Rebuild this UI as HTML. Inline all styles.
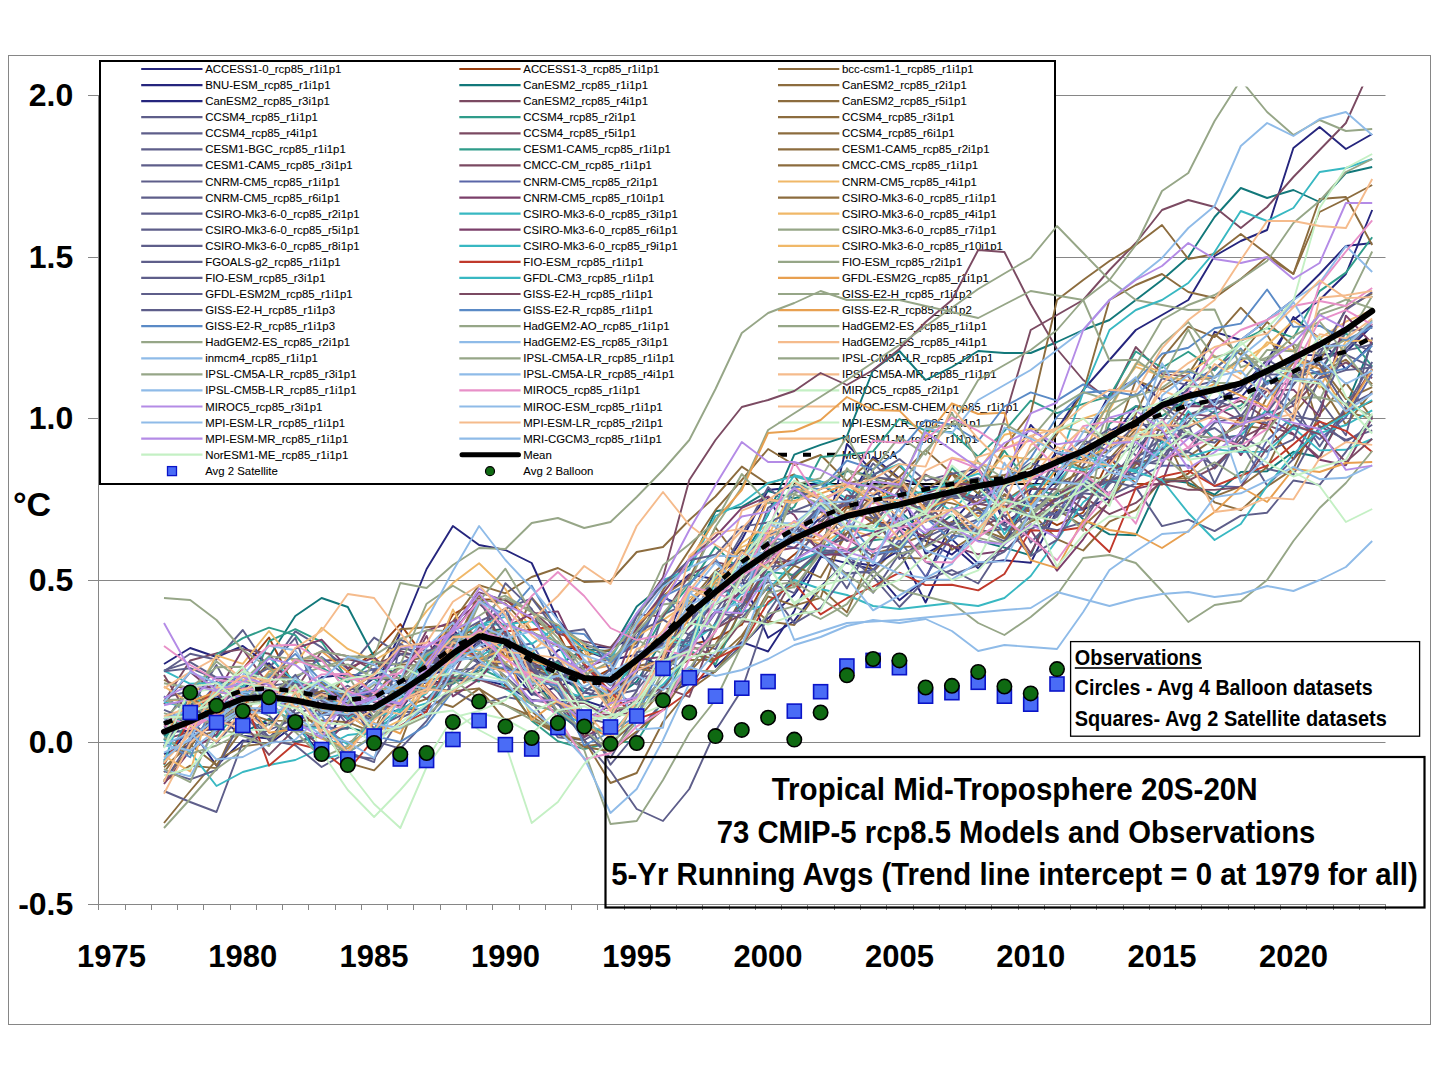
<!DOCTYPE html><html><head><meta charset="utf-8"><style>html,body{margin:0;padding:0;background:#fff;overflow:hidden;}svg{display:block;}</style></head><body>
<svg width="1440" height="1080" viewBox="0 0 1440 1080" font-family="Liberation Sans, sans-serif">
<defs><clipPath id="plotclip"><rect x="98" y="86.4" width="1288" height="818"/></clipPath></defs>
<rect x="0" y="0" width="1440" height="1080" fill="#fff"/>
<rect x="8.5" y="55.5" width="1422" height="969" fill="none" stroke="#868686" stroke-width="1"/>
<line x1="88" y1="95.5" x2="1385.5" y2="95.5" stroke="#868686" stroke-width="1"/>
<line x1="88" y1="257.5" x2="1385.5" y2="257.5" stroke="#868686" stroke-width="1"/>
<line x1="88" y1="418.5" x2="1385.5" y2="418.5" stroke="#868686" stroke-width="1"/>
<line x1="88" y1="580.5" x2="1385.5" y2="580.5" stroke="#868686" stroke-width="1"/>
<line x1="88" y1="742.5" x2="1385.5" y2="742.5" stroke="#868686" stroke-width="1"/>
<line x1="98.5" y1="95" x2="98.5" y2="905" stroke="#868686" stroke-width="1"/>
<line x1="88" y1="904.5" x2="1385.5" y2="904.5" stroke="#868686" stroke-width="1"/>
<path d="M98.5 904V910M125.5 904V910M151.5 904V910M177.5 904V910M203.5 904V910M230.5 904V910M256.5 904V910M282.5 904V910M308.5 904V910M335.5 904V910M361.5 904V910M387.5 904V910M413.5 904V910M440.5 904V910M466.5 904V910M492.5 904V910M519.5 904V910M545.5 904V910M571.5 904V910M597.5 904V910M624.5 904V910M650.5 904V910M676.5 904V910M702.5 904V910M729.5 904V910M755.5 904V910M781.5 904V910M807.5 904V910M834.5 904V910M860.5 904V910M886.5 904V910M913.5 904V910M939.5 904V910M965.5 904V910M991.5 904V910M1018.5 904V910M1044.5 904V910M1070.5 904V910M1096.5 904V910M1123.5 904V910M1149.5 904V910M1175.5 904V910M1201.5 904V910M1228.5 904V910M1254.5 904V910M1280.5 904V910M1306.5 904V910M1333.5 904V910M1359.5 904V910M1385.5 904V910" stroke="#868686" stroke-width="1" fill="none"/>
<text x="73.3" y="105.5" text-anchor="end" font-size="32" font-weight="bold" fill="#000">2.0</text>
<text x="73.3" y="267.5" text-anchor="end" font-size="32" font-weight="bold" fill="#000">1.5</text>
<text x="73.3" y="428.5" text-anchor="end" font-size="32" font-weight="bold" fill="#000">1.0</text>
<text x="73.3" y="590.5" text-anchor="end" font-size="32" font-weight="bold" fill="#000">0.5</text>
<text x="73.3" y="752.5" text-anchor="end" font-size="32" font-weight="bold" fill="#000">0.0</text>
<text x="73.3" y="914.5" text-anchor="end" font-size="32" font-weight="bold" fill="#000">-0.5</text>
<text x="13" y="515.5" font-size="34" font-weight="bold" fill="#000">°C</text>
<text x="111.4" y="967" text-anchor="middle" font-size="31" font-weight="bold" fill="#000">1975</text>
<text x="242.8" y="967" text-anchor="middle" font-size="31" font-weight="bold" fill="#000">1980</text>
<text x="374.1" y="967" text-anchor="middle" font-size="31" font-weight="bold" fill="#000">1985</text>
<text x="505.4" y="967" text-anchor="middle" font-size="31" font-weight="bold" fill="#000">1990</text>
<text x="636.7" y="967" text-anchor="middle" font-size="31" font-weight="bold" fill="#000">1995</text>
<text x="768.1" y="967" text-anchor="middle" font-size="31" font-weight="bold" fill="#000">2000</text>
<text x="899.4" y="967" text-anchor="middle" font-size="31" font-weight="bold" fill="#000">2005</text>
<text x="1030.7" y="967" text-anchor="middle" font-size="31" font-weight="bold" fill="#000">2010</text>
<text x="1162.0" y="967" text-anchor="middle" font-size="31" font-weight="bold" fill="#000">2015</text>
<text x="1293.4" y="967" text-anchor="middle" font-size="31" font-weight="bold" fill="#000">2020</text>
<rect x="100" y="61" width="955" height="423" fill="#fff" stroke="#000" stroke-width="2"/>
<g font-size="11.4" fill="#000" stroke="#000" stroke-width="0.08">
<text x="205.2" y="73.0">ACCESS1-0_rcp85_r1i1p1</text>
<text x="205.2" y="89.1">BNU-ESM_rcp85_r1i1p1</text>
<text x="205.2" y="105.1">CanESM2_rcp85_r3i1p1</text>
<text x="205.2" y="121.2">CCSM4_rcp85_r1i1p1</text>
<text x="205.2" y="137.3">CCSM4_rcp85_r4i1p1</text>
<text x="205.2" y="153.3">CESM1-BGC_rcp85_r1i1p1</text>
<text x="205.2" y="169.4">CESM1-CAM5_rcp85_r3i1p1</text>
<text x="205.2" y="185.5">CNRM-CM5_rcp85_r1i1p1</text>
<text x="205.2" y="201.6">CNRM-CM5_rcp85_r6i1p1</text>
<text x="205.2" y="217.6">CSIRO-Mk3-6-0_rcp85_r2i1p1</text>
<text x="205.2" y="233.7">CSIRO-Mk3-6-0_rcp85_r5i1p1</text>
<text x="205.2" y="249.8">CSIRO-Mk3-6-0_rcp85_r8i1p1</text>
<text x="205.2" y="265.8">FGOALS-g2_rcp85_r1i1p1</text>
<text x="205.2" y="281.9">FIO-ESM_rcp85_r3i1p1</text>
<text x="205.2" y="298.0">GFDL-ESM2M_rcp85_r1i1p1</text>
<text x="205.2" y="314.1">GISS-E2-H_rcp85_r1i1p3</text>
<text x="205.2" y="330.1">GISS-E2-R_rcp85_r1i1p3</text>
<text x="205.2" y="346.2">HadGEM2-ES_rcp85_r2i1p1</text>
<text x="205.2" y="362.3">inmcm4_rcp85_r1i1p1</text>
<text x="205.2" y="378.3">IPSL-CM5A-LR_rcp85_r3i1p1</text>
<text x="205.2" y="394.4">IPSL-CM5B-LR_rcp85_r1i1p1</text>
<text x="205.2" y="410.5">MIROC5_rcp85_r3i1p1</text>
<text x="205.2" y="426.5">MPI-ESM-LR_rcp85_r1i1p1</text>
<text x="205.2" y="442.6">MPI-ESM-MR_rcp85_r1i1p1</text>
<text x="205.2" y="458.7">NorESM1-ME_rcp85_r1i1p1</text>
<text x="523.3" y="73.0">ACCESS1-3_rcp85_r1i1p1</text>
<text x="523.3" y="89.1">CanESM2_rcp85_r1i1p1</text>
<text x="523.3" y="105.1">CanESM2_rcp85_r4i1p1</text>
<text x="523.3" y="121.2">CCSM4_rcp85_r2i1p1</text>
<text x="523.3" y="137.3">CCSM4_rcp85_r5i1p1</text>
<text x="523.3" y="153.3">CESM1-CAM5_rcp85_r1i1p1</text>
<text x="523.3" y="169.4">CMCC-CM_rcp85_r1i1p1</text>
<text x="523.3" y="185.5">CNRM-CM5_rcp85_r2i1p1</text>
<text x="523.3" y="201.6">CNRM-CM5_rcp85_r10i1p1</text>
<text x="523.3" y="217.6">CSIRO-Mk3-6-0_rcp85_r3i1p1</text>
<text x="523.3" y="233.7">CSIRO-Mk3-6-0_rcp85_r6i1p1</text>
<text x="523.3" y="249.8">CSIRO-Mk3-6-0_rcp85_r9i1p1</text>
<text x="523.3" y="265.8">FIO-ESM_rcp85_r1i1p1</text>
<text x="523.3" y="281.9">GFDL-CM3_rcp85_r1i1p1</text>
<text x="523.3" y="298.0">GISS-E2-H_rcp85_r1i1p1</text>
<text x="523.3" y="314.1">GISS-E2-R_rcp85_r1i1p1</text>
<text x="523.3" y="330.1">HadGEM2-AO_rcp85_r1i1p1</text>
<text x="523.3" y="346.2">HadGEM2-ES_rcp85_r3i1p1</text>
<text x="523.3" y="362.3">IPSL-CM5A-LR_rcp85_r1i1p1</text>
<text x="523.3" y="378.3">IPSL-CM5A-LR_rcp85_r4i1p1</text>
<text x="523.3" y="394.4">MIROC5_rcp85_r1i1p1</text>
<text x="523.3" y="410.5">MIROC-ESM_rcp85_r1i1p1</text>
<text x="523.3" y="426.5">MPI-ESM-LR_rcp85_r2i1p1</text>
<text x="523.3" y="442.6">MRI-CGCM3_rcp85_r1i1p1</text>
<text x="842.0" y="73.0">bcc-csm1-1_rcp85_r1i1p1</text>
<text x="842.0" y="89.1">CanESM2_rcp85_r2i1p1</text>
<text x="842.0" y="105.1">CanESM2_rcp85_r5i1p1</text>
<text x="842.0" y="121.2">CCSM4_rcp85_r3i1p1</text>
<text x="842.0" y="137.3">CCSM4_rcp85_r6i1p1</text>
<text x="842.0" y="153.3">CESM1-CAM5_rcp85_r2i1p1</text>
<text x="842.0" y="169.4">CMCC-CMS_rcp85_r1i1p1</text>
<text x="842.0" y="185.5">CNRM-CM5_rcp85_r4i1p1</text>
<text x="842.0" y="201.6">CSIRO-Mk3-6-0_rcp85_r1i1p1</text>
<text x="842.0" y="217.6">CSIRO-Mk3-6-0_rcp85_r4i1p1</text>
<text x="842.0" y="233.7">CSIRO-Mk3-6-0_rcp85_r7i1p1</text>
<text x="842.0" y="249.8">CSIRO-Mk3-6-0_rcp85_r10i1p1</text>
<text x="842.0" y="265.8">FIO-ESM_rcp85_r2i1p1</text>
<text x="842.0" y="281.9">GFDL-ESM2G_rcp85_r1i1p1</text>
<text x="842.0" y="298.0">GISS-E2-H_rcp85_r1i1p2</text>
<text x="842.0" y="314.1">GISS-E2-R_rcp85_r1i1p2</text>
<text x="842.0" y="330.1">HadGEM2-ES_rcp85_r1i1p1</text>
<text x="842.0" y="346.2">HadGEM2-ES_rcp85_r4i1p1</text>
<text x="842.0" y="362.3">IPSL-CM5A-LR_rcp85_r2i1p1</text>
<text x="842.0" y="378.3">IPSL-CM5A-MR_rcp85_r1i1p1</text>
<text x="842.0" y="394.4">MIROC5_rcp85_r2i1p1</text>
<text x="842.0" y="410.5">MIROC-ESM-CHEM_rcp85_r1i1p1</text>
<text x="842.0" y="426.5">MPI-ESM-LR_rcp85_r3i1p1</text>
<text x="842.0" y="442.6">NorESM1-M_rcp85_r1i1p1</text>
<text x="523.3" y="458.7">Mean</text>
<text x="842" y="458.7">Mean USA</text>
<text x="205.2" y="474.8">Avg 2 Satellite</text>
<text x="523.3" y="474.8">Avg 2 Balloon</text>
</g>
<line x1="141.2" y1="69.0" x2="202.5" y2="69.0" stroke="#25257d" stroke-width="2.2"/>
<line x1="141.2" y1="85.1" x2="202.5" y2="85.1" stroke="#25257d" stroke-width="2.2"/>
<line x1="141.2" y1="101.1" x2="202.5" y2="101.1" stroke="#25257d" stroke-width="2.2"/>
<line x1="141.2" y1="117.2" x2="202.5" y2="117.2" stroke="#5e5e8a" stroke-width="2.2"/>
<line x1="141.2" y1="133.3" x2="202.5" y2="133.3" stroke="#5e5e8a" stroke-width="2.2"/>
<line x1="141.2" y1="149.3" x2="202.5" y2="149.3" stroke="#5e5e8a" stroke-width="2.2"/>
<line x1="141.2" y1="165.4" x2="202.5" y2="165.4" stroke="#5e5e8a" stroke-width="2.2"/>
<line x1="141.2" y1="181.5" x2="202.5" y2="181.5" stroke="#5e5e8a" stroke-width="2.2"/>
<line x1="141.2" y1="197.6" x2="202.5" y2="197.6" stroke="#5e5e8a" stroke-width="2.2"/>
<line x1="141.2" y1="213.6" x2="202.5" y2="213.6" stroke="#5e5e8a" stroke-width="2.2"/>
<line x1="141.2" y1="229.7" x2="202.5" y2="229.7" stroke="#5e5e8a" stroke-width="2.2"/>
<line x1="141.2" y1="245.8" x2="202.5" y2="245.8" stroke="#5e5e8a" stroke-width="2.2"/>
<line x1="141.2" y1="261.8" x2="202.5" y2="261.8" stroke="#5e5e8a" stroke-width="2.2"/>
<line x1="141.2" y1="277.9" x2="202.5" y2="277.9" stroke="#5e5e8a" stroke-width="2.2"/>
<line x1="141.2" y1="294.0" x2="202.5" y2="294.0" stroke="#5e5e8a" stroke-width="2.2"/>
<line x1="141.2" y1="310.1" x2="202.5" y2="310.1" stroke="#5e5e8a" stroke-width="2.2"/>
<line x1="141.2" y1="326.1" x2="202.5" y2="326.1" stroke="#5a8ac6" stroke-width="2.2"/>
<line x1="141.2" y1="342.2" x2="202.5" y2="342.2" stroke="#96a687" stroke-width="2.2"/>
<line x1="141.2" y1="358.3" x2="202.5" y2="358.3" stroke="#8fbbe8" stroke-width="2.2"/>
<line x1="141.2" y1="374.3" x2="202.5" y2="374.3" stroke="#96a687" stroke-width="2.2"/>
<line x1="141.2" y1="390.4" x2="202.5" y2="390.4" stroke="#8fbbe8" stroke-width="2.2"/>
<line x1="141.2" y1="406.5" x2="202.5" y2="406.5" stroke="#b48be6" stroke-width="2.2"/>
<line x1="141.2" y1="422.5" x2="202.5" y2="422.5" stroke="#8fbbe8" stroke-width="2.2"/>
<line x1="141.2" y1="438.6" x2="202.5" y2="438.6" stroke="#b48be6" stroke-width="2.2"/>
<line x1="141.2" y1="454.7" x2="202.5" y2="454.7" stroke="#c4f0c4" stroke-width="2.2"/>
<line x1="459.3" y1="69.0" x2="520.6" y2="69.0" stroke="#9a3f10" stroke-width="2.2"/>
<line x1="459.3" y1="85.1" x2="520.6" y2="85.1" stroke="#12787a" stroke-width="2.2"/>
<line x1="459.3" y1="101.1" x2="520.6" y2="101.1" stroke="#7b4a62" stroke-width="2.2"/>
<line x1="459.3" y1="117.2" x2="520.6" y2="117.2" stroke="#2f9c8a" stroke-width="2.2"/>
<line x1="459.3" y1="133.3" x2="520.6" y2="133.3" stroke="#7b4a62" stroke-width="2.2"/>
<line x1="459.3" y1="149.3" x2="520.6" y2="149.3" stroke="#2f9c8a" stroke-width="2.2"/>
<line x1="459.3" y1="165.4" x2="520.6" y2="165.4" stroke="#7b4a62" stroke-width="2.2"/>
<line x1="459.3" y1="181.5" x2="520.6" y2="181.5" stroke="#5a66a8" stroke-width="2.2"/>
<line x1="459.3" y1="197.6" x2="520.6" y2="197.6" stroke="#7b3f6a" stroke-width="2.2"/>
<line x1="459.3" y1="213.6" x2="520.6" y2="213.6" stroke="#38b8c2" stroke-width="2.2"/>
<line x1="459.3" y1="229.7" x2="520.6" y2="229.7" stroke="#7b3f6a" stroke-width="2.2"/>
<line x1="459.3" y1="245.8" x2="520.6" y2="245.8" stroke="#38b8c2" stroke-width="2.2"/>
<line x1="459.3" y1="261.8" x2="520.6" y2="261.8" stroke="#c0392b" stroke-width="2.2"/>
<line x1="459.3" y1="277.9" x2="520.6" y2="277.9" stroke="#38b8c2" stroke-width="2.2"/>
<line x1="459.3" y1="294.0" x2="520.6" y2="294.0" stroke="#7b4a62" stroke-width="2.2"/>
<line x1="459.3" y1="310.1" x2="520.6" y2="310.1" stroke="#5a8ac6" stroke-width="2.2"/>
<line x1="459.3" y1="326.1" x2="520.6" y2="326.1" stroke="#96a687" stroke-width="2.2"/>
<line x1="459.3" y1="342.2" x2="520.6" y2="342.2" stroke="#8fbbe8" stroke-width="2.2"/>
<line x1="459.3" y1="358.3" x2="520.6" y2="358.3" stroke="#96a687" stroke-width="2.2"/>
<line x1="459.3" y1="374.3" x2="520.6" y2="374.3" stroke="#8fbbe8" stroke-width="2.2"/>
<line x1="459.3" y1="390.4" x2="520.6" y2="390.4" stroke="#e890c8" stroke-width="2.2"/>
<line x1="459.3" y1="406.5" x2="520.6" y2="406.5" stroke="#8fbbe8" stroke-width="2.2"/>
<line x1="459.3" y1="422.5" x2="520.6" y2="422.5" stroke="#f5bb8c" stroke-width="2.2"/>
<line x1="459.3" y1="438.6" x2="520.6" y2="438.6" stroke="#8fbbe8" stroke-width="2.2"/>
<line x1="778.0" y1="69.0" x2="839.3" y2="69.0" stroke="#8c6c3e" stroke-width="2.2"/>
<line x1="778.0" y1="85.1" x2="839.3" y2="85.1" stroke="#8c6c3e" stroke-width="2.2"/>
<line x1="778.0" y1="101.1" x2="839.3" y2="101.1" stroke="#8c6c3e" stroke-width="2.2"/>
<line x1="778.0" y1="117.2" x2="839.3" y2="117.2" stroke="#8c6c3e" stroke-width="2.2"/>
<line x1="778.0" y1="133.3" x2="839.3" y2="133.3" stroke="#8c6c3e" stroke-width="2.2"/>
<line x1="778.0" y1="149.3" x2="839.3" y2="149.3" stroke="#8c6c3e" stroke-width="2.2"/>
<line x1="778.0" y1="165.4" x2="839.3" y2="165.4" stroke="#8c6c3e" stroke-width="2.2"/>
<line x1="778.0" y1="181.5" x2="839.3" y2="181.5" stroke="#f0b868" stroke-width="2.2"/>
<line x1="778.0" y1="197.6" x2="839.3" y2="197.6" stroke="#8c6c3e" stroke-width="2.2"/>
<line x1="778.0" y1="213.6" x2="839.3" y2="213.6" stroke="#f0b868" stroke-width="2.2"/>
<line x1="778.0" y1="229.7" x2="839.3" y2="229.7" stroke="#96a687" stroke-width="2.2"/>
<line x1="778.0" y1="245.8" x2="839.3" y2="245.8" stroke="#f0b868" stroke-width="2.2"/>
<line x1="778.0" y1="261.8" x2="839.3" y2="261.8" stroke="#96a687" stroke-width="2.2"/>
<line x1="778.0" y1="277.9" x2="839.3" y2="277.9" stroke="#e8a050" stroke-width="2.2"/>
<line x1="778.0" y1="294.0" x2="839.3" y2="294.0" stroke="#96a687" stroke-width="2.2"/>
<line x1="778.0" y1="310.1" x2="839.3" y2="310.1" stroke="#e8a050" stroke-width="2.2"/>
<line x1="778.0" y1="326.1" x2="839.3" y2="326.1" stroke="#96a687" stroke-width="2.2"/>
<line x1="778.0" y1="342.2" x2="839.3" y2="342.2" stroke="#f5bb8c" stroke-width="2.2"/>
<line x1="778.0" y1="358.3" x2="839.3" y2="358.3" stroke="#96a687" stroke-width="2.2"/>
<line x1="778.0" y1="374.3" x2="839.3" y2="374.3" stroke="#f5bb8c" stroke-width="2.2"/>
<line x1="778.0" y1="390.4" x2="839.3" y2="390.4" stroke="#c4f0c4" stroke-width="2.2"/>
<line x1="778.0" y1="406.5" x2="839.3" y2="406.5" stroke="#f5bb8c" stroke-width="2.2"/>
<line x1="778.0" y1="422.5" x2="839.3" y2="422.5" stroke="#c4f0c4" stroke-width="2.2"/>
<line x1="778.0" y1="438.6" x2="839.3" y2="438.6" stroke="#f5bb8c" stroke-width="2.2"/>
<line x1="462" y1="454.7" x2="518.5" y2="454.7" stroke="#000" stroke-width="5" stroke-linecap="round"/>
<path d="M778 454.7H787M803 454.7H811M827 454.7H836" stroke="#000" stroke-width="4" fill="none"/>
<rect x="167.5" y="466.6" width="9" height="9" fill="#4a6cf6" stroke="#0a14c8" stroke-width="1.3"/>
<circle cx="490" cy="471.2" r="4.5" fill="#0f6a12" stroke="#000" stroke-width="1.2"/>
<g clip-path="url(#plotclip)">
<path d="M164.0 732.2L190.2 730.8L216.5 695.7L242.8 714.6L269.0 724.5L295.3 698.0L321.6 724.4L347.8 700.6L374.1 692.6L400.3 690.3L426.6 682.4L452.9 681.1L479.1 678.6L505.4 685.5L531.7 700.3L557.9 701.7L584.2 700.4L610.5 709.0L636.7 696.9L663.0 694.6L689.3 683.5L715.5 671.3L741.8 645.5L768.1 618.1L794.3 594.8L820.6 557.9L846.9 444.0L873.1 471.8L899.4 527.2L925.6 540.9L951.9 554.6L978.2 533.2L1004.4 486.8L1030.7 474.3L1057.0 429.4L1083.2 390.0L1109.5 360.0L1135.8 330.0L1162.0 315.0L1188.3 300.0L1214.6 256.0L1240.8 241.0L1267.1 230.0L1293.4 148.0L1319.6 127.0L1345.9 149.0L1372.2 134.0" fill="none" stroke="#25257d" stroke-width="1.9" stroke-linejoin="round"/>
<path d="M164.0 745.9L190.2 713.4L216.5 693.9L242.8 669.2L269.0 637.5L295.3 688.5L321.6 710.8L347.8 671.2L374.1 652.6L400.3 624.1L426.6 659.6L452.9 614.6L479.1 599.5L505.4 599.8L531.7 619.7L557.9 632.7L584.2 682.7L610.5 669.1L636.7 667.6L663.0 668.4L689.3 645.0L715.5 638.7L741.8 624.7L768.1 576.1L794.3 554.6L820.6 531.4L846.9 505.5L873.1 523.0L899.4 522.5L925.6 515.0L951.9 473.5L978.2 487.2L1004.4 507.8L1030.7 511.4L1057.0 525.2L1083.2 512.5L1109.5 458.2L1135.8 483.8L1162.0 484.6L1188.3 473.7L1214.6 446.8L1240.8 416.6L1267.1 425.3L1293.4 459.3L1319.6 428.4L1345.9 413.2L1372.2 401.2" fill="none" stroke="#9a3f10" stroke-width="1.9" stroke-linejoin="round"/>
<path d="M164.0 753.8L190.2 747.2L216.5 709.9L242.8 708.2L269.0 694.5L295.3 677.6L321.6 694.9L347.8 704.1L374.1 719.5L400.3 691.6L426.6 664.2L452.9 621.2L479.1 585.1L505.4 593.3L531.7 577.0L557.9 568.0L584.2 582.0L610.5 581.0L636.7 552.0L663.0 547.0L689.3 520.0L715.5 496.5L741.8 466.6L768.1 484.1L794.3 474.5L820.6 524.1L846.9 484.0L873.1 476.4L899.4 482.8L925.6 519.7L951.9 486.5L978.2 503.5L1004.4 477.3L1030.7 472.4L1057.0 484.6L1083.2 470.8L1109.5 500.5L1135.8 464.2L1162.0 404.1L1188.3 416.8L1214.6 438.7L1240.8 425.5L1267.1 428.9L1293.4 397.8L1319.6 372.9L1345.9 359.6L1372.2 384.3" fill="none" stroke="#8c6c3e" stroke-width="1.9" stroke-linejoin="round"/>
<path d="M164.0 753.8L190.2 744.8L216.5 716.1L242.8 735.7L269.0 738.6L295.3 709.4L321.6 677.3L347.8 674.4L374.1 677.8L400.3 681.4L426.6 680.3L452.9 634.2L479.1 637.1L505.4 651.7L531.7 678.5L557.9 650.3L584.2 646.3L610.5 647.6L636.7 637.0L663.0 596.8L689.3 574.4L715.5 579.3L741.8 539.8L768.1 490.0L794.3 487.3L820.6 483.4L846.9 502.5L873.1 495.1L899.4 486.1L925.6 553.9L951.9 539.4L978.2 563.6L1004.4 560.3L1030.7 562.8L1057.0 510.4L1083.2 509.5L1109.5 497.8L1135.8 458.0L1162.0 404.6L1188.3 404.7L1214.6 399.9L1240.8 387.9L1267.1 360.0L1293.4 320.0L1319.6 300.0L1345.9 274.0L1372.2 210.0" fill="none" stroke="#25257d" stroke-width="1.9" stroke-linejoin="round"/>
<path d="M164.0 724.0L190.2 716.7L216.5 700.0L242.8 690.0L269.0 657.0L295.3 616.0L321.6 598.0L347.8 607.0L374.1 657.0L400.3 700.0L426.6 662.2L452.9 638.8L479.1 632.1L505.4 628.7L531.7 665.3L557.9 665.4L584.2 649.1L610.5 651.3L636.7 606.5L663.0 585.2L689.3 566.2L715.5 511.3L741.8 506.9L768.1 491.1L794.3 498.3L820.6 489.2L846.9 471.1L873.1 475.5L899.4 510.6L925.6 534.7L951.9 514.9L978.2 540.7L1004.4 547.6L1030.7 555.4L1057.0 492.2L1083.2 519.3L1109.5 534.4L1135.8 535.2L1162.0 479.2L1188.3 482.8L1214.6 494.7L1240.8 472.0L1267.1 471.2L1293.4 451.7L1319.6 457.2L1345.9 406.6L1372.2 342.3" fill="none" stroke="#12787a" stroke-width="1.9" stroke-linejoin="round"/>
<path d="M164.0 736.2L190.2 711.0L216.5 688.9L242.8 733.1L269.0 718.8L295.3 742.0L321.6 736.1L347.8 727.2L374.1 734.7L400.3 726.8L426.6 706.6L452.9 677.3L479.1 670.7L505.4 667.6L531.7 673.0L557.9 712.9L584.2 733.0L610.5 701.5L636.7 681.5L663.0 640.2L689.3 648.0L715.5 573.9L741.8 558.6L768.1 514.7L794.3 454.6L820.6 444.9L846.9 436.4L873.1 370.0L899.4 351.0L925.6 380.0L951.9 367.0L978.2 351.0L1004.4 353.0L1030.7 353.0L1057.0 342.0L1083.2 330.0L1109.5 320.0L1135.8 300.0L1162.0 280.0L1188.3 257.0L1214.6 217.0L1240.8 188.0L1267.1 198.0L1293.4 190.0L1319.6 202.0L1345.9 173.0L1372.2 167.0" fill="none" stroke="#12787a" stroke-width="1.9" stroke-linejoin="round"/>
<path d="M164.0 664.0L190.2 648.0L216.5 657.0L242.8 646.0L269.0 665.0L295.3 680.0L321.6 695.9L347.8 701.6L374.1 716.9L400.3 709.5L426.6 677.2L452.9 666.3L479.1 640.6L505.4 663.0L531.7 694.9L557.9 686.9L584.2 676.4L610.5 690.0L636.7 672.5L663.0 597.6L689.3 607.7L715.5 666.9L741.8 642.2L768.1 651.5L794.3 610.9L820.6 556.7L846.9 563.1L873.1 569.5L899.4 600.2L925.6 578.7L951.9 522.6L978.2 493.2L1004.4 480.8L1030.7 424.9L1057.0 453.4L1083.2 457.3L1109.5 441.0L1135.8 406.2L1162.0 408.6L1188.3 380.6L1214.6 377.2L1240.8 358.9L1267.1 375.8L1293.4 355.1L1319.6 355.0L1345.9 352.1L1372.2 325.5" fill="none" stroke="#25257d" stroke-width="1.9" stroke-linejoin="round"/>
<path d="M164.0 760.7L190.2 728.0L216.5 765.7L242.8 740.4L269.0 744.3L295.3 724.8L321.6 754.2L347.8 700.0L374.1 690.0L400.3 633.0L426.6 569.0L452.9 526.0L479.1 545.0L505.4 550.0L531.7 563.0L557.9 620.0L584.2 650.0L610.5 660.0L636.7 654.8L663.0 666.3L689.3 607.0L715.5 573.9L741.8 559.5L768.1 497.4L794.3 541.7L820.6 517.5L846.9 503.6L873.1 456.9L899.4 478.2L925.6 486.8L951.9 487.0L978.2 467.8L1004.4 522.8L1030.7 506.5L1057.0 479.6L1083.2 443.6L1109.5 394.1L1135.8 379.2L1162.0 400.7L1188.3 391.2L1214.6 402.1L1240.8 397.6L1267.1 367.2L1293.4 316.9L1319.6 338.4L1345.9 369.3L1372.2 343.9" fill="none" stroke="#25257d" stroke-width="1.9" stroke-linejoin="round"/>
<path d="M164.0 767.3L190.2 744.4L216.5 765.0L242.8 728.9L269.0 698.4L295.3 707.2L321.6 730.6L347.8 762.9L374.1 770.4L400.3 743.3L426.6 673.8L452.9 649.4L479.1 594.1L505.4 658.0L531.7 597.5L557.9 627.5L584.2 655.3L610.5 649.7L636.7 629.5L663.0 595.7L689.3 578.2L715.5 527.5L741.8 562.4L768.1 530.8L794.3 535.6L820.6 511.6L846.9 529.6L873.1 571.7L899.4 545.2L925.6 534.2L951.9 521.8L978.2 528.4L1004.4 538.5L1030.7 521.7L1057.0 509.8L1083.2 526.0L1109.5 502.2L1135.8 464.1L1162.0 455.1L1188.3 456.7L1214.6 438.4L1240.8 445.9L1267.1 397.2L1293.4 362.7L1319.6 362.3L1345.9 308.5L1372.2 293.5" fill="none" stroke="#8c6c3e" stroke-width="1.9" stroke-linejoin="round"/>
<path d="M164.0 731.6L190.2 709.2L216.5 718.1L242.8 690.6L269.0 663.2L295.3 695.7L321.6 693.4L347.8 696.6L374.1 678.0L400.3 654.1L426.6 653.7L452.9 628.7L479.1 662.1L505.4 641.5L531.7 655.6L557.9 676.5L584.2 692.3L610.5 699.3L636.7 663.1L663.0 643.6L689.3 587.2L715.5 593.5L741.8 578.5L768.1 637.8L794.3 620.7L820.6 586.7L846.9 561.5L873.1 565.7L899.4 550.5L925.6 602.5L951.9 545.3L978.2 568.3L1004.4 544.4L1030.7 490.4L1057.0 450.8L1083.2 461.2L1109.5 431.5L1135.8 416.3L1162.0 442.8L1188.3 388.8L1214.6 331.8L1240.8 340.0L1267.1 320.0L1293.4 300.0L1319.6 274.0L1345.9 246.0L1372.2 243.0" fill="none" stroke="#25257d" stroke-width="1.9" stroke-linejoin="round"/>
<path d="M164.0 701.3L190.2 660.5L216.5 653.3L242.8 649.1L269.0 653.7L295.3 690.3L321.6 651.3L347.8 656.1L374.1 670.4L400.3 650.9L426.6 659.4L452.9 632.9L479.1 598.6L505.4 649.7L531.7 667.1L557.9 704.8L584.2 702.7L610.5 718.9L636.7 709.6L663.0 665.9L689.3 645.5L715.5 656.3L741.8 621.3L768.1 622.7L794.3 576.9L820.6 551.0L846.9 532.9L873.1 526.1L899.4 489.3L925.6 474.7L951.9 489.3L978.2 498.0L1004.4 419.0L1030.7 330.0L1057.0 315.0L1083.2 300.0L1109.5 270.0L1135.8 243.0L1162.0 210.0L1188.3 200.0L1214.6 207.0L1240.8 228.0L1267.1 207.0L1293.4 177.0L1319.6 150.0L1345.9 123.0L1372.2 65.0" fill="none" stroke="#7b4a62" stroke-width="1.9" stroke-linejoin="round"/>
<path d="M164.0 823.0L190.2 791.0L216.5 760.0L242.8 746.3L269.0 743.0L295.3 719.0L321.6 714.8L347.8 691.7L374.1 673.8L400.3 629.2L426.6 627.2L452.9 625.1L479.1 635.3L505.4 631.3L531.7 666.4L557.9 674.7L584.2 679.0L610.5 699.0L636.7 666.3L663.0 660.8L689.3 602.1L715.5 570.9L741.8 550.3L768.1 554.3L794.3 578.3L820.6 549.2L846.9 507.7L873.1 513.6L899.4 557.8L925.6 558.6L951.9 537.2L978.2 500.2L1004.4 499.5L1030.7 501.1L1057.0 499.9L1083.2 458.9L1109.5 451.2L1135.8 380.5L1162.0 390.2L1188.3 374.3L1214.6 334.3L1240.8 354.7L1267.1 322.0L1293.4 346.3L1319.6 429.3L1345.9 412.0L1372.2 418.3" fill="none" stroke="#8c6c3e" stroke-width="1.9" stroke-linejoin="round"/>
<path d="M164.0 722.2L190.2 737.1L216.5 681.8L242.8 698.6L269.0 693.6L295.3 683.3L321.6 692.8L347.8 725.1L374.1 688.4L400.3 709.0L426.6 709.7L452.9 690.7L479.1 705.2L505.4 696.7L531.7 702.0L557.9 737.2L584.2 740.2L610.5 724.6L636.7 691.1L663.0 614.6L689.3 602.5L715.5 580.4L741.8 535.0L768.1 487.1L794.3 511.6L820.6 511.6L846.9 502.7L873.1 522.0L899.4 528.8L925.6 502.6L951.9 494.1L978.2 504.4L1004.4 495.5L1030.7 511.2L1057.0 500.3L1083.2 477.2L1109.5 493.9L1135.8 461.3L1162.0 464.2L1188.3 414.8L1214.6 405.0L1240.8 390.7L1267.1 359.4L1293.4 376.0L1319.6 360.4L1345.9 350.6L1372.2 344.5" fill="none" stroke="#5e5e8a" stroke-width="1.9" stroke-linejoin="round"/>
<path d="M164.0 740.1L190.2 702.2L216.5 736.9L242.8 704.6L269.0 641.1L295.3 629.2L321.6 641.8L347.8 679.5L374.1 678.7L400.3 697.9L426.6 687.9L452.9 683.9L479.1 667.8L505.4 680.2L531.7 720.7L557.9 741.2L584.2 749.1L610.5 742.5L636.7 741.6L663.0 700.3L689.3 650.1L715.5 664.4L741.8 607.7L768.1 571.8L794.3 574.9L820.6 554.5L846.9 550.7L873.1 540.2L899.4 537.0L925.6 520.1L951.9 467.8L978.2 494.0L1004.4 450.7L1030.7 486.5L1057.0 496.1L1083.2 489.2L1109.5 423.8L1135.8 406.1L1162.0 416.1L1188.3 398.5L1214.6 413.8L1240.8 405.4L1267.1 381.1L1293.4 375.4L1319.6 372.8L1345.9 332.8L1372.2 366.5" fill="none" stroke="#2f9c8a" stroke-width="1.9" stroke-linejoin="round"/>
<path d="M164.0 780.7L190.2 747.3L216.5 705.7L242.8 685.9L269.0 665.3L295.3 694.2L321.6 727.5L347.8 743.2L374.1 729.6L400.3 676.7L426.6 687.6L452.9 691.3L479.1 688.4L505.4 720.4L531.7 711.3L557.9 733.9L584.2 746.1L610.5 743.3L636.7 720.3L663.0 689.2L689.3 653.4L715.5 659.0L741.8 608.4L768.1 549.9L794.3 540.1L820.6 539.8L846.9 512.9L873.1 518.5L899.4 551.8L925.6 502.5L951.9 549.8L978.2 532.8L1004.4 494.1L1030.7 511.8L1057.0 539.1L1083.2 550.5L1109.5 521.7L1135.8 510.2L1162.0 479.8L1188.3 478.1L1214.6 502.3L1240.8 510.2L1267.1 486.5L1293.4 468.9L1319.6 414.2L1345.9 382.9L1372.2 418.3" fill="none" stroke="#8c6c3e" stroke-width="1.9" stroke-linejoin="round"/>
<path d="M164.0 697.5L190.2 691.0L216.5 685.4L242.8 694.3L269.0 740.6L295.3 709.0L321.6 685.2L347.8 690.2L374.1 728.9L400.3 715.6L426.6 690.8L452.9 681.9L479.1 662.5L505.4 647.6L531.7 656.8L557.9 669.2L584.2 670.2L610.5 704.7L636.7 677.0L663.0 675.2L689.3 640.7L715.5 649.2L741.8 597.6L768.1 582.0L794.3 593.2L820.6 549.1L846.9 555.2L873.1 576.6L899.4 607.0L925.6 579.9L951.9 570.0L978.2 583.5L1004.4 543.3L1030.7 478.5L1057.0 479.7L1083.2 485.0L1109.5 480.9L1135.8 468.2L1162.0 458.4L1188.3 452.0L1214.6 465.0L1240.8 442.2L1267.1 468.9L1293.4 474.8L1319.6 426.1L1345.9 439.8L1372.2 430.4" fill="none" stroke="#5e5e8a" stroke-width="1.9" stroke-linejoin="round"/>
<path d="M164.0 739.7L190.2 731.7L216.5 729.0L242.8 710.8L269.0 690.2L295.3 660.6L321.6 660.8L347.8 659.2L374.1 665.0L400.3 653.5L426.6 668.2L452.9 625.9L479.1 592.3L505.4 600.6L531.7 610.1L557.9 633.7L584.2 641.4L610.5 647.6L636.7 615.3L663.0 577.2L689.3 480.0L715.5 440.0L741.8 407.0L768.1 400.0L794.3 391.0L820.6 373.0L846.9 385.0L873.1 370.0L899.4 349.0L925.6 322.0L951.9 300.0L978.2 250.0L1004.4 252.0L1030.7 304.0L1057.0 349.0L1083.2 380.0L1109.5 400.0L1135.8 347.0L1162.0 374.1L1188.3 376.4L1214.6 408.9L1240.8 400.8L1267.1 419.3L1293.4 405.5L1319.6 377.5L1345.9 362.4L1372.2 378.1" fill="none" stroke="#7b4a62" stroke-width="1.9" stroke-linejoin="round"/>
<path d="M164.0 772.3L190.2 737.7L216.5 731.3L242.8 695.5L269.0 674.0L295.3 679.0L321.6 696.2L347.8 710.3L374.1 709.6L400.3 664.3L426.6 666.3L452.9 648.0L479.1 599.5L505.4 603.4L531.7 631.6L557.9 646.7L584.2 647.3L610.5 660.6L636.7 642.9L663.0 590.0L689.3 550.0L715.5 510.0L741.8 480.0L768.1 449.0L794.3 465.0L820.6 455.0L846.9 481.2L873.1 459.1L899.4 479.6L925.6 498.6L951.9 503.4L978.2 510.4L1004.4 501.3L1030.7 483.3L1057.0 507.3L1083.2 475.2L1109.5 480.6L1135.8 413.8L1162.0 358.3L1188.3 326.7L1214.6 337.1L1240.8 307.7L1267.1 334.8L1293.4 378.4L1319.6 364.1L1345.9 399.1L1372.2 387.1" fill="none" stroke="#8c6c3e" stroke-width="1.9" stroke-linejoin="round"/>
<path d="M164.0 671.3L190.2 653.7L216.5 659.7L242.8 630.0L269.0 669.0L295.3 631.4L321.6 647.4L347.8 669.1L374.1 637.6L400.3 654.5L426.6 654.3L452.9 631.5L479.1 664.9L505.4 663.0L531.7 687.1L557.9 660.5L584.2 688.1L610.5 695.6L636.7 690.0L663.0 658.0L689.3 673.0L715.5 622.7L741.8 588.5L768.1 552.1L794.3 564.6L820.6 551.1L846.9 549.2L873.1 549.5L899.4 544.0L925.6 518.7L951.9 528.0L978.2 519.3L1004.4 529.8L1030.7 529.2L1057.0 517.0L1083.2 492.2L1109.5 480.9L1135.8 472.8L1162.0 424.5L1188.3 428.4L1214.6 411.4L1240.8 381.5L1267.1 412.7L1293.4 377.3L1319.6 371.1L1345.9 331.5L1372.2 327.7" fill="none" stroke="#5e5e8a" stroke-width="1.9" stroke-linejoin="round"/>
<path d="M164.0 765.0L190.2 715.0L216.5 654.5L242.8 638.1L269.0 627.7L295.3 635.1L321.6 667.6L347.8 682.4L374.1 660.0L400.3 676.2L426.6 680.3L452.9 676.5L479.1 681.5L505.4 635.8L531.7 660.5L557.9 662.8L584.2 701.6L610.5 689.4L636.7 663.4L663.0 616.8L689.3 585.4L715.5 546.6L741.8 572.3L768.1 524.5L794.3 506.8L820.6 457.0L846.9 454.9L873.1 451.4L899.4 419.0L925.6 430.7L951.9 432.3L978.2 456.6L1004.4 431.1L1030.7 400.6L1057.0 413.2L1083.2 403.8L1109.5 396.3L1135.8 351.5L1162.0 367.7L1188.3 351.8L1214.6 370.4L1240.8 340.8L1267.1 328.0L1293.4 337.7L1319.6 291.1L1345.9 272.6L1372.2 237.3" fill="none" stroke="#2f9c8a" stroke-width="1.9" stroke-linejoin="round"/>
<path d="M164.0 679.9L190.2 691.8L216.5 713.7L242.8 712.8L269.0 705.9L295.3 696.5L321.6 682.7L347.8 706.8L374.1 696.3L400.3 662.9L426.6 656.7L452.9 645.1L479.1 623.1L505.4 684.1L531.7 719.5L557.9 734.3L584.2 740.0L610.5 783.0L636.7 773.0L663.0 722.0L689.3 690.0L715.5 671.3L741.8 638.3L768.1 592.0L794.3 565.6L820.6 577.5L846.9 533.2L873.1 522.1L899.4 477.0L925.6 450.1L951.9 473.5L978.2 509.4L1004.4 538.5L1030.7 504.3L1057.0 456.9L1083.2 468.1L1109.5 458.9L1135.8 429.4L1162.0 430.1L1188.3 485.1L1214.6 496.4L1240.8 486.3L1267.1 467.2L1293.4 414.5L1319.6 382.9L1345.9 424.8L1372.2 391.2" fill="none" stroke="#8c6c3e" stroke-width="1.9" stroke-linejoin="round"/>
<path d="M164.0 670.4L190.2 662.1L216.5 677.6L242.8 682.0L269.0 668.0L295.3 637.8L321.6 711.6L347.8 688.9L374.1 690.6L400.3 648.9L426.6 650.6L452.9 661.2L479.1 644.0L505.4 666.3L531.7 676.6L557.9 683.0L584.2 702.2L610.5 673.3L636.7 684.5L663.0 653.0L689.3 637.6L715.5 627.5L741.8 608.1L768.1 567.4L794.3 535.1L820.6 510.9L846.9 517.0L873.1 487.7L899.4 521.1L925.6 516.5L951.9 523.7L978.2 512.7L1004.4 525.7L1030.7 504.8L1057.0 505.3L1083.2 516.4L1109.5 484.0L1135.8 461.8L1162.0 448.4L1188.3 435.2L1214.6 468.6L1240.8 442.3L1267.1 485.5L1293.4 459.2L1319.6 408.8L1345.9 348.7L1372.2 323.9" fill="none" stroke="#5e5e8a" stroke-width="1.9" stroke-linejoin="round"/>
<path d="M164.0 747.3L190.2 694.5L216.5 723.5L242.8 722.1L269.0 703.2L295.3 687.5L321.6 693.8L347.8 697.5L374.1 711.8L400.3 682.1L426.6 698.7L452.9 675.2L479.1 627.5L505.4 608.5L531.7 661.2L557.9 679.0L584.2 667.8L610.5 658.2L636.7 614.2L663.0 616.6L689.3 575.1L715.5 561.8L741.8 568.2L768.1 557.8L794.3 540.5L820.6 526.5L846.9 499.2L873.1 488.8L899.4 487.2L925.6 503.8L951.9 527.0L978.2 528.9L1004.4 515.4L1030.7 553.0L1057.0 504.5L1083.2 496.5L1109.5 514.2L1135.8 502.9L1162.0 481.8L1188.3 480.7L1214.6 467.3L1240.8 438.4L1267.1 425.1L1293.4 434.6L1319.6 457.6L1345.9 408.8L1372.2 369.0" fill="none" stroke="#7b4a62" stroke-width="1.9" stroke-linejoin="round"/>
<path d="M164.0 781.4L190.2 765.6L216.5 768.1L242.8 711.6L269.0 720.6L295.3 720.9L321.6 720.4L347.8 722.2L374.1 732.9L400.3 689.7L426.6 659.9L452.9 641.9L479.1 656.2L505.4 670.8L531.7 670.3L557.9 675.3L584.2 737.4L610.5 699.3L636.7 668.2L663.0 673.3L689.3 660.0L715.5 659.9L741.8 635.6L768.1 596.5L794.3 605.6L820.6 597.8L846.9 523.5L873.1 495.1L899.4 466.1L925.6 489.8L951.9 473.2L978.2 493.6L1004.4 447.2L1030.7 413.3L1057.0 300.0L1083.2 280.0L1109.5 261.0L1135.8 245.0L1162.0 225.0L1188.3 259.0L1214.6 254.0L1240.8 234.0L1267.1 254.0L1293.4 274.0L1319.6 212.0L1345.9 199.0L1372.2 185.0" fill="none" stroke="#8c6c3e" stroke-width="1.9" stroke-linejoin="round"/>
<path d="M164.0 722.9L190.2 685.3L216.5 711.8L242.8 705.1L269.0 715.5L295.3 743.7L321.6 731.4L347.8 755.7L374.1 758.7L400.3 718.2L426.6 705.9L452.9 670.6L479.1 668.0L505.4 635.3L531.7 669.7L557.9 691.9L584.2 730.2L610.5 757.9L636.7 713.3L663.0 687.9L689.3 649.5L715.5 612.9L741.8 592.0L768.1 559.6L794.3 525.8L820.6 547.2L846.9 538.3L873.1 556.3L899.4 548.0L925.6 510.0L951.9 529.3L978.2 532.3L1004.4 529.0L1030.7 514.3L1057.0 513.1L1083.2 490.8L1109.5 481.8L1135.8 448.9L1162.0 422.1L1188.3 387.6L1214.6 381.0L1240.8 416.3L1267.1 382.4L1293.4 384.5L1319.6 349.6L1345.9 339.5L1372.2 352.1" fill="none" stroke="#5e5e8a" stroke-width="1.9" stroke-linejoin="round"/>
<path d="M164.0 696.4L190.2 714.6L216.5 684.0L242.8 693.2L269.0 676.6L295.3 679.2L321.6 657.1L347.8 677.3L374.1 669.0L400.3 662.8L426.6 652.3L452.9 646.7L479.1 659.1L505.4 648.1L531.7 643.5L557.9 685.4L584.2 643.1L610.5 656.6L636.7 646.4L663.0 593.5L689.3 624.5L715.5 588.7L741.8 552.6L768.1 541.8L794.3 547.7L820.6 552.7L846.9 574.2L873.1 569.9L899.4 539.8L925.6 576.7L951.9 535.3L978.2 538.9L1004.4 487.9L1030.7 518.9L1057.0 513.6L1083.2 477.1L1109.5 457.6L1135.8 477.7L1162.0 465.8L1188.3 465.4L1214.6 485.9L1240.8 487.1L1267.1 440.4L1293.4 416.3L1319.6 439.2L1345.9 417.3L1372.2 373.8" fill="none" stroke="#5a66a8" stroke-width="1.9" stroke-linejoin="round"/>
<path d="M164.0 686.4L190.2 703.3L216.5 655.4L242.8 663.9L269.0 631.0L295.3 664.1L321.6 627.7L347.8 648.9L374.1 660.5L400.3 645.1L426.6 611.2L452.9 583.1L479.1 563.3L505.4 588.9L531.7 630.3L557.9 628.8L584.2 649.9L610.5 705.1L636.7 664.5L663.0 645.2L689.3 597.6L715.5 586.2L741.8 543.2L768.1 524.2L794.3 534.0L820.6 544.2L846.9 528.9L873.1 536.9L899.4 538.8L925.6 510.8L951.9 486.6L978.2 482.0L1004.4 455.8L1030.7 459.3L1057.0 459.2L1083.2 454.3L1109.5 400.4L1135.8 366.9L1162.0 376.1L1188.3 380.7L1214.6 376.8L1240.8 361.5L1267.1 345.1L1293.4 320.7L1319.6 338.3L1345.9 321.7L1372.2 309.8" fill="none" stroke="#f0b868" stroke-width="1.9" stroke-linejoin="round"/>
<path d="M164.0 782.2L190.2 740.7L216.5 713.6L242.8 714.2L269.0 706.3L295.3 677.6L321.6 698.7L347.8 719.5L374.1 669.9L400.3 691.8L426.6 653.0L452.9 642.5L479.1 637.2L505.4 583.2L531.7 608.9L557.9 671.6L584.2 714.1L610.5 764.7L636.7 733.0L663.0 701.3L689.3 672.1L715.5 622.6L741.8 565.8L768.1 578.7L794.3 526.0L820.6 551.5L846.9 556.5L873.1 592.8L899.4 553.8L925.6 546.5L951.9 526.1L978.2 530.2L1004.4 541.3L1030.7 516.2L1057.0 484.8L1083.2 451.1L1109.5 457.6L1135.8 446.3L1162.0 405.2L1188.3 425.1L1214.6 483.5L1240.8 431.3L1267.1 414.0L1293.4 401.7L1319.6 371.4L1345.9 354.7L1372.2 367.1" fill="none" stroke="#5e5e8a" stroke-width="1.9" stroke-linejoin="round"/>
<path d="M164.0 784.0L190.2 750.5L216.5 734.4L242.8 689.0L269.0 683.3L295.3 723.7L321.6 747.9L347.8 720.7L374.1 695.6L400.3 683.1L426.6 635.9L452.9 696.4L479.1 679.3L505.4 648.5L531.7 671.5L557.9 699.4L584.2 737.1L610.5 723.4L636.7 660.1L663.0 656.7L689.3 627.1L715.5 604.5L741.8 593.1L768.1 552.0L794.3 547.8L820.6 524.3L846.9 541.0L873.1 532.7L899.4 523.1L925.6 537.6L951.9 546.2L978.2 554.3L1004.4 550.6L1030.7 529.8L1057.0 570.7L1083.2 539.3L1109.5 500.4L1135.8 488.9L1162.0 482.6L1188.3 413.6L1214.6 416.6L1240.8 455.1L1267.1 417.4L1293.4 433.8L1319.6 459.8L1345.9 465.3L1372.2 418.1" fill="none" stroke="#7b3f6a" stroke-width="1.9" stroke-linejoin="round"/>
<path d="M164.0 725.1L190.2 705.9L216.5 691.3L242.8 697.6L269.0 702.4L295.3 703.0L321.6 690.9L347.8 694.8L374.1 696.4L400.3 708.5L426.6 698.9L452.9 707.0L479.1 688.6L505.4 705.2L531.7 716.2L557.9 733.6L584.2 747.0L610.5 751.2L636.7 731.5L663.0 709.8L689.3 672.1L715.5 644.7L741.8 597.8L768.1 621.4L794.3 625.0L820.6 588.2L846.9 612.4L873.1 553.7L899.4 547.0L925.6 546.1L951.9 488.3L978.2 479.0L1004.4 475.0L1030.7 468.2L1057.0 434.1L1083.2 392.1L1109.5 300.0L1135.8 285.0L1162.0 274.0L1188.3 292.0L1214.6 298.0L1240.8 279.0L1267.1 257.0L1293.4 274.0L1319.6 199.0L1345.9 197.0L1372.2 245.0" fill="none" stroke="#8c6c3e" stroke-width="1.9" stroke-linejoin="round"/>
<path d="M164.0 791.0L190.2 802.0L216.5 812.0L242.8 742.0L269.0 730.0L295.3 718.8L321.6 714.7L347.8 715.2L374.1 731.2L400.3 712.0L426.6 711.9L452.9 651.6L479.1 663.0L505.4 649.1L531.7 665.5L557.9 672.1L584.2 691.8L610.5 698.5L636.7 670.9L663.0 659.9L689.3 648.1L715.5 611.2L741.8 573.1L768.1 534.5L794.3 531.6L820.6 506.2L846.9 540.8L873.1 476.9L899.4 480.2L925.6 504.0L951.9 498.4L978.2 496.6L1004.4 505.6L1030.7 504.6L1057.0 515.3L1083.2 486.1L1109.5 498.1L1135.8 438.8L1162.0 458.1L1188.3 421.7L1214.6 400.6L1240.8 409.1L1267.1 388.2L1293.4 415.4L1319.6 421.2L1345.9 441.7L1372.2 424.7" fill="none" stroke="#5e5e8a" stroke-width="1.9" stroke-linejoin="round"/>
<path d="M164.0 740.0L190.2 752.0L216.5 786.0L242.8 772.0L269.0 765.0L295.3 760.0L321.6 748.0L347.8 735.0L374.1 732.1L400.3 711.6L426.6 703.2L452.9 660.2L479.1 657.0L505.4 641.1L531.7 648.9L557.9 690.8L584.2 697.0L610.5 695.0L636.7 656.8L663.0 639.7L689.3 645.1L715.5 624.6L741.8 592.8L768.1 589.9L794.3 561.5L820.6 552.1L846.9 526.8L873.1 531.3L899.4 495.2L925.6 513.6L951.9 496.5L978.2 478.6L1004.4 502.3L1030.7 485.6L1057.0 482.1L1083.2 453.7L1109.5 465.4L1135.8 470.2L1162.0 451.0L1188.3 411.1L1214.6 439.2L1240.8 435.3L1267.1 409.5L1293.4 426.5L1319.6 433.1L1345.9 425.0L1372.2 410.3" fill="none" stroke="#38b8c2" stroke-width="1.9" stroke-linejoin="round"/>
<path d="M164.0 746.5L190.2 707.8L216.5 665.1L242.8 712.3L269.0 736.7L295.3 725.1L321.6 727.2L347.8 728.7L374.1 690.5L400.3 639.7L426.6 650.8L452.9 646.4L479.1 631.6L505.4 645.5L531.7 693.4L557.9 703.6L584.2 740.0L610.5 771.0L636.7 809.0L663.0 821.0L689.3 789.0L715.5 731.0L741.8 690.0L768.1 612.2L794.3 573.9L820.6 550.2L846.9 588.4L873.1 539.1L899.4 508.3L925.6 506.4L951.9 482.9L978.2 477.7L1004.4 516.8L1030.7 494.8L1057.0 507.0L1083.2 465.4L1109.5 433.7L1135.8 424.9L1162.0 378.3L1188.3 385.4L1214.6 368.1L1240.8 349.8L1267.1 374.7L1293.4 373.7L1319.6 400.2L1345.9 435.2L1372.2 337.4" fill="none" stroke="#5e5e8a" stroke-width="1.9" stroke-linejoin="round"/>
<path d="M164.0 704.0L190.2 672.1L216.5 693.5L242.8 649.3L269.0 685.5L295.3 648.5L321.6 639.7L347.8 668.1L374.1 657.4L400.3 680.3L426.6 630.7L452.9 622.0L479.1 603.6L505.4 627.5L531.7 613.7L557.9 611.4L584.2 665.6L610.5 692.3L636.7 627.6L663.0 593.4L689.3 558.6L715.5 536.5L741.8 507.9L768.1 496.5L794.3 515.1L820.6 555.1L846.9 554.0L873.1 539.2L899.4 516.5L925.6 493.6L951.9 483.5L978.2 485.1L1004.4 489.1L1030.7 520.3L1057.0 497.6L1083.2 475.2L1109.5 462.8L1135.8 433.0L1162.0 440.5L1188.3 406.0L1214.6 406.5L1240.8 420.5L1267.1 390.6L1293.4 389.6L1319.6 416.3L1345.9 315.6L1372.2 343.5" fill="none" stroke="#7b3f6a" stroke-width="1.9" stroke-linejoin="round"/>
<path d="M164.0 719.3L190.2 693.6L216.5 661.4L242.8 681.4L269.0 656.1L295.3 659.1L321.6 657.7L347.8 693.2L374.1 690.7L400.3 685.2L426.6 654.5L452.9 639.7L479.1 633.7L505.4 631.4L531.7 665.9L557.9 689.2L584.2 719.3L610.5 716.0L636.7 653.8L663.0 613.6L689.3 582.0L715.5 526.8L741.8 487.3L768.1 430.0L794.3 413.3L820.6 396.7L846.9 380.0L873.1 362.5L899.4 345.0L925.6 326.3L951.9 307.7L978.2 289.0L1004.4 273.5L1030.7 258.0L1057.0 226.0L1083.2 253.0L1109.5 280.0L1135.8 300.0L1162.0 305.0L1188.3 310.0L1214.6 309.5L1240.8 367.4L1267.1 357.4L1293.4 344.1L1319.6 354.3L1345.9 339.4L1372.2 296.0" fill="none" stroke="#96a687" stroke-width="1.9" stroke-linejoin="round"/>
<path d="M164.0 726.9L190.2 711.4L216.5 712.5L242.8 703.4L269.0 686.0L295.3 682.4L321.6 700.9L347.8 718.3L374.1 718.5L400.3 696.3L426.6 676.4L452.9 636.3L479.1 621.6L505.4 608.9L531.7 668.9L557.9 680.1L584.2 665.0L610.5 685.4L636.7 657.7L663.0 644.3L689.3 625.6L715.5 571.6L741.8 576.0L768.1 507.7L794.3 490.4L820.6 499.0L846.9 489.3L873.1 518.2L899.4 503.0L925.6 499.2L951.9 496.3L978.2 497.2L1004.4 485.0L1030.7 542.6L1057.0 515.2L1083.2 508.5L1109.5 472.7L1135.8 458.6L1162.0 438.1L1188.3 437.1L1214.6 428.0L1240.8 446.9L1267.1 373.8L1293.4 404.9L1319.6 446.4L1345.9 406.7L1372.2 361.9" fill="none" stroke="#5e5e8a" stroke-width="1.9" stroke-linejoin="round"/>
<path d="M164.0 702.1L190.2 708.0L216.5 694.8L242.8 680.8L269.0 683.7L295.3 727.8L321.6 727.8L347.8 744.5L374.1 728.4L400.3 707.8L426.6 675.1L452.9 662.5L479.1 625.0L505.4 624.3L531.7 621.4L557.9 644.6L584.2 692.0L610.5 673.7L636.7 658.1L663.0 634.5L689.3 642.2L715.5 575.6L741.8 612.0L768.1 604.4L794.3 580.0L820.6 589.0L846.9 595.0L873.1 606.0L899.4 609.0L925.6 606.0L951.9 603.0L978.2 606.0L1004.4 598.0L1030.7 576.0L1057.0 540.0L1083.2 502.3L1109.5 481.8L1135.8 478.6L1162.0 441.3L1188.3 457.0L1214.6 449.4L1240.8 451.9L1267.1 451.6L1293.4 427.7L1319.6 450.4L1345.9 449.8L1372.2 439.0" fill="none" stroke="#38b8c2" stroke-width="1.9" stroke-linejoin="round"/>
<path d="M164.0 755.9L190.2 771.4L216.5 685.4L242.8 687.2L269.0 702.2L295.3 689.0L321.6 709.6L347.8 713.7L374.1 733.2L400.3 720.4L426.6 676.9L452.9 609.5L479.1 660.1L505.4 662.5L531.7 652.0L557.9 627.7L584.2 644.6L610.5 701.1L636.7 636.5L663.0 620.1L689.3 602.3L715.5 577.5L741.8 547.0L768.1 535.7L794.3 487.8L820.6 497.2L846.9 504.7L873.1 485.5L899.4 507.7L925.6 490.2L951.9 487.6L978.2 470.7L1004.4 434.8L1030.7 428.8L1057.0 432.4L1083.2 418.6L1109.5 410.0L1135.8 363.5L1162.0 371.8L1188.3 372.7L1214.6 355.7L1240.8 373.7L1267.1 342.2L1293.4 350.5L1319.6 387.7L1345.9 341.1L1372.2 340.5" fill="none" stroke="#f0b868" stroke-width="1.9" stroke-linejoin="round"/>
<path d="M164.0 727.1L190.2 721.0L216.5 742.7L242.8 714.5L269.0 740.1L295.3 745.3L321.6 767.0L347.8 752.0L374.1 762.1L400.3 643.6L426.6 662.3L452.9 652.4L479.1 640.1L505.4 631.6L531.7 690.5L557.9 710.9L584.2 732.7L610.5 689.1L636.7 706.1L663.0 679.0L689.3 633.6L715.5 611.8L741.8 618.2L768.1 587.0L794.3 623.4L820.6 607.7L846.9 572.9L873.1 572.3L899.4 530.5L925.6 561.9L951.9 575.0L978.2 565.1L1004.4 551.6L1030.7 524.5L1057.0 530.2L1083.2 522.4L1109.5 481.0L1135.8 487.1L1162.0 526.1L1188.3 519.7L1214.6 531.1L1240.8 515.6L1267.1 512.7L1293.4 480.5L1319.6 484.9L1345.9 451.8L1372.2 415.7" fill="none" stroke="#5e5e8a" stroke-width="1.9" stroke-linejoin="round"/>
<path d="M164.0 764.1L190.2 719.4L216.5 684.3L242.8 693.7L269.0 765.7L295.3 743.3L321.6 750.0L347.8 770.8L374.1 738.7L400.3 725.9L426.6 711.7L452.9 647.9L479.1 655.5L505.4 631.3L531.7 629.8L557.9 625.4L584.2 663.9L610.5 691.5L636.7 719.2L663.0 710.2L689.3 691.7L715.5 658.9L741.8 645.9L768.1 601.9L794.3 582.8L820.6 614.4L846.9 598.2L873.1 586.5L899.4 572.6L925.6 585.1L951.9 584.7L978.2 590.4L1004.4 574.0L1030.7 530.3L1057.0 531.0L1083.2 527.2L1109.5 552.0L1135.8 487.8L1162.0 476.5L1188.3 470.9L1214.6 486.0L1240.8 475.6L1267.1 465.6L1293.4 444.3L1319.6 421.7L1345.9 430.8L1372.2 452.0" fill="none" stroke="#c0392b" stroke-width="1.9" stroke-linejoin="round"/>
<path d="M164.0 737.5L190.2 753.9L216.5 745.5L242.8 732.4L269.0 737.3L295.3 725.7L321.6 724.4L347.8 703.1L374.1 684.7L400.3 668.3L426.6 661.9L452.9 679.3L479.1 699.0L505.4 705.2L531.7 719.9L557.9 726.9L584.2 750.0L610.5 824.0L636.7 821.0L663.0 780.0L689.3 733.0L715.5 700.0L741.8 645.4L768.1 593.1L794.3 587.0L820.6 553.9L846.9 574.9L873.1 592.3L899.4 565.6L925.6 538.4L951.9 507.3L978.2 529.4L1004.4 543.7L1030.7 520.1L1057.0 504.2L1083.2 530.8L1109.5 412.4L1135.8 393.7L1162.0 454.0L1188.3 477.8L1214.6 462.3L1240.8 478.8L1267.1 430.9L1293.4 397.8L1319.6 397.3L1345.9 403.7L1372.2 416.0" fill="none" stroke="#96a687" stroke-width="1.9" stroke-linejoin="round"/>
<path d="M164.0 709.9L190.2 720.3L216.5 706.4L242.8 687.6L269.0 695.0L295.3 682.7L321.6 699.9L347.8 685.7L374.1 702.4L400.3 701.7L426.6 678.6L452.9 631.1L479.1 601.5L505.4 634.6L531.7 660.8L557.9 713.9L584.2 692.5L610.5 669.3L636.7 632.1L663.0 619.6L689.3 635.0L715.5 628.2L741.8 604.9L768.1 566.9L794.3 564.7L820.6 520.7L846.9 503.4L873.1 509.2L899.4 559.1L925.6 537.4L951.9 525.3L978.2 507.9L1004.4 524.1L1030.7 555.9L1057.0 539.9L1083.2 493.3L1109.5 496.2L1135.8 483.1L1162.0 432.4L1188.3 436.8L1214.6 442.7L1240.8 421.0L1267.1 414.0L1293.4 356.1L1319.6 365.2L1345.9 406.6L1372.2 393.2" fill="none" stroke="#5e5e8a" stroke-width="1.9" stroke-linejoin="round"/>
<path d="M164.0 670.6L190.2 683.8L216.5 682.7L242.8 686.7L269.0 657.3L295.3 681.9L321.6 684.4L347.8 719.2L374.1 699.1L400.3 697.8L426.6 655.7L452.9 637.4L479.1 625.1L505.4 616.7L531.7 644.0L557.9 626.6L584.2 648.9L610.5 659.2L636.7 613.4L663.0 580.2L689.3 569.5L715.5 516.0L741.8 503.3L768.1 483.0L794.3 476.3L820.6 483.9L846.9 498.5L873.1 474.7L899.4 464.0L925.6 493.5L951.9 511.5L978.2 482.9L1004.4 534.3L1030.7 498.7L1057.0 467.5L1083.2 392.1L1109.5 330.0L1135.8 310.0L1162.0 300.0L1188.3 283.0L1214.6 252.0L1240.8 211.0L1267.1 221.0L1293.4 208.0L1319.6 172.0L1345.9 168.0L1372.2 159.0" fill="none" stroke="#38b8c2" stroke-width="1.9" stroke-linejoin="round"/>
<path d="M164.0 762.6L190.2 688.2L216.5 724.2L242.8 690.5L269.0 708.1L295.3 720.8L321.6 760.1L347.8 752.2L374.1 716.8L400.3 710.2L426.6 693.1L452.9 656.1L479.1 650.4L505.4 689.0L531.7 704.4L557.9 712.1L584.2 723.9L610.5 734.1L636.7 705.2L663.0 684.6L689.3 655.5L715.5 579.8L741.8 568.6L768.1 513.1L794.3 475.2L820.6 481.3L846.9 489.0L873.1 499.7L899.4 494.0L925.6 491.9L951.9 482.7L978.2 473.7L1004.4 484.8L1030.7 476.7L1057.0 462.2L1083.2 470.0L1109.5 465.0L1135.8 472.0L1162.0 480.0L1188.3 513.0L1214.6 540.0L1240.8 524.0L1267.1 486.0L1293.4 454.0L1319.6 430.0L1345.9 415.0L1372.2 400.0" fill="none" stroke="#38b8c2" stroke-width="1.9" stroke-linejoin="round"/>
<path d="M164.0 700.5L190.2 699.4L216.5 714.9L242.8 705.2L269.0 671.5L295.3 663.1L321.6 651.3L347.8 672.0L374.1 692.8L400.3 687.2L426.6 686.6L452.9 636.6L479.1 635.1L505.4 657.0L531.7 660.9L557.9 668.7L584.2 671.1L610.5 665.4L636.7 624.8L663.0 600.0L689.3 560.0L715.5 520.0L741.8 490.0L768.1 433.0L794.3 431.0L820.6 420.0L846.9 397.0L873.1 410.0L899.4 410.7L925.6 437.0L951.9 403.3L978.2 414.0L1004.4 412.8L1030.7 505.2L1057.0 468.9L1083.2 460.3L1109.5 446.0L1135.8 428.0L1162.0 436.9L1188.3 396.4L1214.6 383.9L1240.8 395.6L1267.1 406.9L1293.4 358.5L1319.6 368.9L1345.9 412.6L1372.2 369.4" fill="none" stroke="#e8a050" stroke-width="1.9" stroke-linejoin="round"/>
<path d="M164.0 671.4L190.2 668.2L216.5 678.8L242.8 696.2L269.0 692.3L295.3 713.7L321.6 705.9L347.8 691.9L374.1 691.5L400.3 694.2L426.6 671.5L452.9 639.4L479.1 643.3L505.4 608.9L531.7 598.3L557.9 633.0L584.2 629.3L610.5 671.2L636.7 616.5L663.0 583.8L689.3 560.2L715.5 554.8L741.8 526.6L768.1 522.5L794.3 510.9L820.6 500.5L846.9 502.7L873.1 463.4L899.4 486.7L925.6 522.0L951.9 494.6L978.2 488.0L1004.4 479.8L1030.7 463.0L1057.0 471.8L1083.2 445.4L1109.5 428.7L1135.8 455.7L1162.0 449.2L1188.3 451.2L1214.6 422.8L1240.8 415.5L1267.1 423.3L1293.4 384.7L1319.6 354.3L1345.9 309.9L1372.2 292.1" fill="none" stroke="#5e5e8a" stroke-width="1.9" stroke-linejoin="round"/>
<path d="M164.0 675.1L190.2 718.3L216.5 692.4L242.8 722.5L269.0 754.9L295.3 728.7L321.6 705.8L347.8 715.7L374.1 707.6L400.3 705.4L426.6 687.0L452.9 677.7L479.1 679.5L505.4 688.7L531.7 689.3L557.9 679.0L584.2 714.8L610.5 714.4L636.7 701.6L663.0 687.1L689.3 696.8L715.5 628.7L741.8 614.3L768.1 563.2L794.3 560.3L820.6 543.6L846.9 495.3L873.1 502.2L899.4 494.7L925.6 516.1L951.9 489.3L978.2 503.8L1004.4 508.3L1030.7 488.7L1057.0 489.3L1083.2 509.3L1109.5 469.2L1135.8 462.3L1162.0 483.6L1188.3 489.8L1214.6 489.9L1240.8 487.2L1267.1 447.8L1293.4 425.0L1319.6 434.4L1345.9 462.1L1372.2 438.8" fill="none" stroke="#7b4a62" stroke-width="1.9" stroke-linejoin="round"/>
<path d="M164.0 683.2L190.2 687.7L216.5 667.3L242.8 666.8L269.0 694.8L295.3 675.8L321.6 667.1L347.8 659.4L374.1 655.6L400.3 638.7L426.6 630.4L452.9 630.9L479.1 616.0L505.4 598.2L531.7 612.1L557.9 643.3L584.2 662.9L610.5 658.4L636.7 639.5L663.0 654.1L689.3 592.4L715.5 583.3L741.8 578.3L768.1 564.3L794.3 484.8L820.6 478.1L846.9 436.4L873.1 485.2L899.4 486.6L925.6 428.5L951.9 424.8L978.2 380.0L1004.4 365.0L1030.7 350.0L1057.0 330.0L1083.2 300.0L1109.5 280.0L1135.8 245.0L1162.0 191.0L1188.3 173.0L1214.6 121.0L1240.8 80.0L1267.1 112.0L1293.4 135.0L1319.6 120.0L1345.9 131.0L1372.2 129.0" fill="none" stroke="#96a687" stroke-width="1.9" stroke-linejoin="round"/>
<path d="M164.0 771.1L190.2 779.3L216.5 770.0L242.8 716.2L269.0 701.9L295.3 674.8L321.6 716.0L347.8 697.0L374.1 740.9L400.3 748.7L426.6 721.0L452.9 682.6L479.1 652.6L505.4 676.4L531.7 700.3L557.9 703.9L584.2 717.7L610.5 723.9L636.7 652.3L663.0 647.4L689.3 640.6L715.5 596.5L741.8 583.4L768.1 546.2L794.3 537.0L820.6 505.3L846.9 505.6L873.1 475.4L899.4 459.1L925.6 480.6L951.9 473.7L978.2 468.6L1004.4 501.6L1030.7 502.1L1057.0 459.5L1083.2 440.0L1109.5 451.4L1135.8 424.6L1162.0 425.1L1188.3 433.9L1214.6 438.7L1240.8 435.6L1267.1 451.6L1293.4 439.4L1319.6 378.4L1345.9 370.1L1372.2 367.5" fill="none" stroke="#5e5e8a" stroke-width="1.9" stroke-linejoin="round"/>
<path d="M164.0 743.6L190.2 735.1L216.5 705.6L242.8 696.1L269.0 676.6L295.3 653.9L321.6 680.8L347.8 701.5L374.1 689.1L400.3 694.1L426.6 675.7L452.9 658.1L479.1 599.8L505.4 615.8L531.7 585.7L557.9 631.8L584.2 634.1L610.5 662.7L636.7 638.1L663.0 596.9L689.3 583.7L715.5 559.0L741.8 594.3L768.1 547.7L794.3 486.6L820.6 489.1L846.9 460.5L873.1 469.2L899.4 450.8L925.6 420.2L951.9 424.7L978.2 441.0L1004.4 406.5L1030.7 392.4L1057.0 400.6L1083.2 384.4L1109.5 397.8L1135.8 381.4L1162.0 353.8L1188.3 347.8L1214.6 328.3L1240.8 323.6L1267.1 289.5L1293.4 326.9L1319.6 325.7L1345.9 340.2L1372.2 327.1" fill="none" stroke="#5a8ac6" stroke-width="1.9" stroke-linejoin="round"/>
<path d="M164.0 733.3L190.2 701.5L216.5 691.9L242.8 694.7L269.0 732.7L295.3 728.7L321.6 738.5L347.8 748.7L374.1 722.8L400.3 733.5L426.6 684.1L452.9 649.4L479.1 659.1L505.4 649.0L531.7 719.9L557.9 700.5L584.2 726.3L610.5 736.8L636.7 717.7L663.0 656.3L689.3 618.5L715.5 581.0L741.8 560.1L768.1 499.6L794.3 500.9L820.6 493.6L846.9 484.3L873.1 503.6L899.4 481.1L925.6 508.9L951.9 498.7L978.2 516.1L1004.4 506.3L1030.7 560.2L1057.0 568.1L1083.2 520.0L1109.5 530.0L1135.8 534.0L1162.0 548.0L1188.3 531.0L1214.6 512.0L1240.8 487.0L1267.1 502.0L1293.4 469.0L1319.6 472.0L1345.9 463.0L1372.2 462.0" fill="none" stroke="#e8a050" stroke-width="1.9" stroke-linejoin="round"/>
<path d="M164.0 742.3L190.2 757.3L216.5 695.2L242.8 671.6L269.0 692.6L295.3 703.5L321.6 715.6L347.8 752.6L374.1 736.0L400.3 741.9L426.6 725.2L452.9 691.0L479.1 666.7L505.4 667.6L531.7 681.6L557.9 685.5L584.2 745.3L610.5 732.0L636.7 716.1L663.0 663.4L689.3 644.4L715.5 587.8L741.8 568.2L768.1 536.9L794.3 542.7L820.6 506.4L846.9 520.4L873.1 553.1L899.4 551.1L925.6 517.8L951.9 540.3L978.2 520.2L1004.4 482.6L1030.7 457.9L1057.0 416.9L1083.2 392.8L1109.5 390.8L1135.8 395.7L1162.0 371.2L1188.3 371.7L1214.6 377.3L1240.8 348.5L1267.1 384.6L1293.4 360.8L1319.6 374.5L1345.9 368.4L1372.2 345.8" fill="none" stroke="#5a8ac6" stroke-width="1.9" stroke-linejoin="round"/>
<path d="M164.0 699.3L190.2 710.0L216.5 706.8L242.8 705.0L269.0 699.1L295.3 730.9L321.6 736.6L347.8 752.5L374.1 734.7L400.3 728.3L426.6 716.2L452.9 691.3L479.1 671.4L505.4 624.9L531.7 632.7L557.9 641.6L584.2 675.6L610.5 661.0L636.7 631.6L663.0 604.5L689.3 600.7L715.5 630.6L741.8 577.9L768.1 537.3L794.3 587.5L820.6 551.8L846.9 468.2L873.1 502.2L899.4 504.5L925.6 475.7L951.9 482.5L978.2 461.8L1004.4 500.7L1030.7 516.5L1057.0 491.7L1083.2 479.8L1109.5 407.4L1135.8 364.8L1162.0 320.0L1188.3 305.0L1214.6 295.0L1240.8 279.0L1267.1 261.0L1293.4 223.0L1319.6 201.0L1345.9 172.0L1372.2 159.0" fill="none" stroke="#96a687" stroke-width="1.9" stroke-linejoin="round"/>
<path d="M164.0 828.0L190.2 799.0L216.5 769.0L242.8 750.0L269.0 722.8L295.3 731.8L321.6 757.6L347.8 745.9L374.1 715.9L400.3 679.8L426.6 653.5L452.9 641.5L479.1 632.0L505.4 663.7L531.7 681.0L557.9 710.9L584.2 730.0L610.5 751.5L636.7 722.0L663.0 671.0L689.3 649.7L715.5 644.8L741.8 622.1L768.1 585.4L794.3 582.1L820.6 598.2L846.9 616.2L873.1 577.5L899.4 554.0L925.6 547.2L951.9 531.9L978.2 537.8L1004.4 544.4L1030.7 513.5L1057.0 490.8L1083.2 443.2L1109.5 403.3L1135.8 396.1L1162.0 387.8L1188.3 369.2L1214.6 383.0L1240.8 382.9L1267.1 349.9L1293.4 351.3L1319.6 314.7L1345.9 305.7L1372.2 251.5" fill="none" stroke="#96a687" stroke-width="1.9" stroke-linejoin="round"/>
<path d="M164.0 713.1L190.2 721.8L216.5 722.0L242.8 713.0L269.0 688.3L295.3 660.0L321.6 666.6L347.8 664.4L374.1 677.7L400.3 678.1L426.6 673.6L452.9 661.4L479.1 604.2L505.4 595.7L531.7 611.6L557.9 637.9L584.2 670.1L610.5 709.1L636.7 706.0L663.0 697.5L689.3 670.6L715.5 671.3L741.8 647.0L768.1 613.9L794.3 606.1L820.6 619.0L846.9 604.1L873.1 570.9L899.4 590.0L925.6 596.5L951.9 603.0L978.2 623.0L1004.4 635.0L1030.7 617.0L1057.0 595.0L1083.2 558.0L1109.5 555.0L1135.8 563.0L1162.0 591.0L1188.3 622.0L1214.6 605.0L1240.8 601.0L1267.1 580.0L1293.4 541.0L1319.6 508.0L1345.9 483.0L1372.2 451.0" fill="none" stroke="#96a687" stroke-width="1.9" stroke-linejoin="round"/>
<path d="M164.0 770.0L190.2 776.3L216.5 727.4L242.8 711.0L269.0 713.9L295.3 704.2L321.6 698.6L347.8 711.2L374.1 700.4L400.3 683.9L426.6 688.7L452.9 661.6L479.1 656.0L505.4 627.1L531.7 684.4L557.9 675.8L584.2 659.7L610.5 684.5L636.7 657.1L663.0 647.4L689.3 594.5L715.5 562.7L741.8 586.3L768.1 576.1L794.3 640.0L820.6 631.5L846.9 623.0L873.1 621.5L899.4 620.0L925.6 617.5L951.9 615.0L978.2 612.5L1004.4 610.0L1030.7 608.0L1057.0 592.0L1083.2 599.0L1109.5 606.0L1135.8 599.0L1162.0 594.0L1188.3 592.0L1214.6 597.0L1240.8 594.0L1267.1 586.0L1293.4 591.0L1319.6 580.0L1345.9 567.0L1372.2 541.0" fill="none" stroke="#8fbbe8" stroke-width="1.9" stroke-linejoin="round"/>
<path d="M164.0 793.8L190.2 743.3L216.5 720.2L242.8 729.4L269.0 693.5L295.3 687.6L321.6 735.0L347.8 724.2L374.1 709.4L400.3 714.1L426.6 689.5L452.9 642.3L479.1 650.4L505.4 640.0L531.7 620.0L557.9 596.0L584.2 566.0L610.5 584.0L636.7 526.0L663.0 492.0L689.3 525.0L715.5 545.0L741.8 560.0L768.1 536.7L794.3 526.3L820.6 516.8L846.9 486.0L873.1 493.7L899.4 478.5L925.6 511.9L951.9 509.8L978.2 539.2L1004.4 484.6L1030.7 480.3L1057.0 456.0L1083.2 462.0L1109.5 465.1L1135.8 432.0L1162.0 438.9L1188.3 456.7L1214.6 512.0L1240.8 508.8L1267.1 497.6L1293.4 499.4L1319.6 458.5L1345.9 442.1L1372.2 444.9" fill="none" stroke="#f5bb8c" stroke-width="1.9" stroke-linejoin="round"/>
<path d="M164.0 752.7L190.2 740.1L216.5 683.6L242.8 692.1L269.0 692.8L295.3 707.0L321.6 705.2L347.8 700.7L374.1 682.1L400.3 691.6L426.6 663.6L452.9 668.1L479.1 625.1L505.4 637.0L531.7 678.8L557.9 675.9L584.2 686.6L610.5 673.4L636.7 657.5L663.0 631.1L689.3 612.1L715.5 604.6L741.8 562.3L768.1 523.0L794.3 523.3L820.6 503.1L846.9 501.3L873.1 496.1L899.4 526.3L925.6 428.5L951.9 433.2L978.2 400.0L1004.4 385.0L1030.7 370.0L1057.0 350.0L1083.2 330.0L1109.5 300.0L1135.8 279.0L1162.0 258.0L1188.3 228.0L1214.6 206.0L1240.8 146.0L1267.1 123.0L1293.4 136.0L1319.6 119.0L1345.9 112.0L1372.2 135.0" fill="none" stroke="#8fbbe8" stroke-width="1.9" stroke-linejoin="round"/>
<path d="M164.0 598.0L190.2 600.0L216.5 620.0L242.8 650.0L269.0 668.0L295.3 690.0L321.6 698.8L347.8 675.0L374.1 718.1L400.3 687.9L426.6 691.2L452.9 682.5L479.1 652.2L505.4 677.1L531.7 704.5L557.9 711.4L584.2 711.7L610.5 753.2L636.7 694.5L663.0 695.5L689.3 668.7L715.5 631.4L741.8 571.2L768.1 555.9L794.3 494.3L820.6 503.7L846.9 515.4L873.1 469.8L899.4 436.8L925.6 454.8L951.9 413.0L978.2 462.0L1004.4 478.7L1030.7 451.2L1057.0 426.5L1083.2 431.6L1109.5 436.1L1135.8 422.7L1162.0 408.3L1188.3 434.1L1214.6 438.3L1240.8 424.8L1267.1 365.6L1293.4 369.3L1319.6 400.3L1345.9 345.4L1372.2 320.2" fill="none" stroke="#96a687" stroke-width="1.9" stroke-linejoin="round"/>
<path d="M164.0 699.9L190.2 699.1L216.5 727.5L242.8 736.0L269.0 746.1L295.3 699.3L321.6 711.3L347.8 703.4L374.1 661.7L400.3 664.7L426.6 603.7L452.9 585.7L479.1 601.3L505.4 568.7L531.7 612.5L557.9 624.8L584.2 643.5L610.5 655.1L636.7 622.1L663.0 565.3L689.3 544.3L715.5 521.4L741.8 474.0L768.1 503.4L794.3 493.4L820.6 484.5L846.9 470.0L873.1 478.3L899.4 487.3L925.6 450.2L951.9 423.7L978.2 426.5L1004.4 423.6L1030.7 438.8L1057.0 408.1L1083.2 392.1L1109.5 400.2L1135.8 379.5L1162.0 344.4L1188.3 322.0L1214.6 357.4L1240.8 350.1L1267.1 374.5L1293.4 356.3L1319.6 310.7L1345.9 299.7L1372.2 308.5" fill="none" stroke="#96a687" stroke-width="1.9" stroke-linejoin="round"/>
<path d="M164.0 769.0L190.2 782.1L216.5 722.2L242.8 703.6L269.0 674.2L295.3 662.4L321.6 651.3L347.8 656.2L374.1 657.0L400.3 583.0L426.6 588.0L452.9 565.0L479.1 548.0L505.4 549.0L531.7 523.0L557.9 518.0L584.2 528.0L610.5 522.0L636.7 497.0L663.0 470.0L689.3 440.0L715.5 389.0L741.8 333.0L768.1 313.0L794.3 303.0L820.6 291.0L846.9 300.0L873.1 300.0L899.4 300.0L925.6 306.0L951.9 312.0L978.2 318.0L1004.4 304.5L1030.7 291.0L1057.0 295.5L1083.2 300.0L1109.5 360.5L1135.8 359.7L1162.0 377.9L1188.3 329.5L1214.6 378.0L1240.8 358.0L1267.1 360.5L1293.4 336.2L1319.6 321.5L1345.9 354.1L1372.2 386.3" fill="none" stroke="#96a687" stroke-width="1.9" stroke-linejoin="round"/>
<path d="M164.0 744.5L190.2 732.5L216.5 759.5L242.8 757.0L269.0 743.1L295.3 739.6L321.6 715.4L347.8 709.6L374.1 724.0L400.3 728.0L426.6 704.1L452.9 664.3L479.1 645.5L505.4 638.2L531.7 631.4L557.9 656.9L584.2 679.8L610.5 674.9L636.7 623.4L663.0 586.7L689.3 567.6L715.5 555.8L741.8 556.4L768.1 552.1L794.3 540.7L820.6 553.8L846.9 577.5L873.1 610.3L899.4 595.4L925.6 579.6L951.9 579.5L978.2 562.1L1004.4 561.4L1030.7 510.7L1057.0 474.9L1083.2 432.1L1109.5 399.5L1135.8 377.1L1162.0 429.5L1188.3 400.3L1214.6 386.2L1240.8 340.0L1267.1 320.0L1293.4 300.0L1319.6 283.0L1345.9 246.0L1372.2 272.0" fill="none" stroke="#8fbbe8" stroke-width="1.9" stroke-linejoin="round"/>
<path d="M164.0 688.1L190.2 672.1L216.5 657.5L242.8 679.7L269.0 683.7L295.3 707.7L321.6 694.2L347.8 705.2L374.1 730.5L400.3 699.6L426.6 689.1L452.9 691.8L479.1 664.7L505.4 671.7L531.7 672.7L557.9 701.0L584.2 714.7L610.5 717.3L636.7 670.3L663.0 659.4L689.3 556.0L715.5 532.9L741.8 528.9L768.1 500.0L794.3 502.7L820.6 488.9L846.9 483.2L873.1 499.2L899.4 500.3L925.6 498.3L951.9 491.4L978.2 456.9L1004.4 448.8L1030.7 435.9L1057.0 428.5L1083.2 457.6L1109.5 431.9L1135.8 427.9L1162.0 390.6L1188.3 400.2L1214.6 364.0L1240.8 379.3L1267.1 390.1L1293.4 420.6L1319.6 334.1L1345.9 338.4L1372.2 318.4" fill="none" stroke="#f5bb8c" stroke-width="1.9" stroke-linejoin="round"/>
<path d="M164.0 745.2L190.2 750.5L216.5 730.0L242.8 675.3L269.0 645.8L295.3 650.3L321.6 688.1L347.8 692.7L374.1 710.6L400.3 696.7L426.6 647.6L452.9 622.6L479.1 660.1L505.4 680.2L531.7 649.7L557.9 644.9L584.2 655.3L610.5 663.8L636.7 729.6L663.0 727.7L689.3 592.5L715.5 610.9L741.8 602.6L768.1 524.2L794.3 532.6L820.6 535.5L846.9 557.7L873.1 561.7L899.4 573.9L925.6 578.2L951.9 563.9L978.2 523.9L1004.4 480.7L1030.7 472.2L1057.0 482.2L1083.2 484.2L1109.5 450.3L1135.8 435.0L1162.0 363.2L1188.3 407.3L1214.6 376.7L1240.8 370.6L1267.1 398.8L1293.4 368.1L1319.6 360.5L1345.9 383.8L1372.2 370.6" fill="none" stroke="#8fbbe8" stroke-width="1.9" stroke-linejoin="round"/>
<path d="M164.0 646.0L190.2 665.0L216.5 680.0L242.8 682.2L269.0 687.5L295.3 659.7L321.6 669.9L347.8 679.4L374.1 678.3L400.3 672.9L426.6 642.1L452.9 648.7L479.1 630.4L505.4 640.0L531.7 686.8L557.9 717.6L584.2 759.2L610.5 753.2L636.7 726.4L663.0 710.5L689.3 659.8L715.5 631.5L741.8 577.4L768.1 530.9L794.3 462.2L820.6 502.1L846.9 486.5L873.1 440.7L899.4 442.9L925.6 439.6L951.9 417.5L978.2 430.9L1004.4 448.1L1030.7 440.5L1057.0 468.8L1083.2 472.8L1109.5 495.8L1135.8 457.0L1162.0 419.8L1188.3 448.0L1214.6 437.0L1240.8 445.7L1267.1 428.9L1293.4 368.9L1319.6 320.4L1345.9 310.1L1372.2 324.7" fill="none" stroke="#e890c8" stroke-width="1.9" stroke-linejoin="round"/>
<path d="M164.0 725.5L190.2 729.1L216.5 714.1L242.8 688.4L269.0 691.0L295.3 690.3L321.6 674.4L347.8 673.8L374.1 693.5L400.3 671.9L426.6 645.7L452.9 633.2L479.1 600.1L505.4 630.0L531.7 596.0L557.9 572.0L584.2 596.0L610.5 628.0L636.7 640.0L663.0 634.7L689.3 586.3L715.5 593.1L741.8 602.4L768.1 546.3L794.3 520.7L820.6 536.1L846.9 550.2L873.1 499.5L899.4 527.8L925.6 561.7L951.9 562.5L978.2 537.1L1004.4 520.1L1030.7 538.3L1057.0 560.3L1083.2 523.9L1109.5 491.8L1135.8 523.7L1162.0 461.0L1188.3 447.5L1214.6 416.9L1240.8 397.4L1267.1 410.2L1293.4 368.9L1319.6 284.6L1345.9 251.5L1372.2 220.4" fill="none" stroke="#e890c8" stroke-width="1.9" stroke-linejoin="round"/>
<path d="M164.0 716.1L190.2 725.4L216.5 714.6L242.8 668.9L269.0 645.7L295.3 644.8L321.6 660.3L347.8 691.0L374.1 701.2L400.3 707.8L426.6 669.7L452.9 662.0L479.1 637.6L505.4 658.4L531.7 677.2L557.9 683.8L584.2 724.2L610.5 708.6L636.7 698.8L663.0 649.7L689.3 656.7L715.5 598.3L741.8 575.1L768.1 561.5L794.3 538.4L820.6 522.9L846.9 538.5L873.1 552.2L899.4 528.5L925.6 519.9L951.9 458.4L978.2 468.6L1004.4 512.6L1030.7 479.5L1057.0 466.0L1083.2 426.1L1109.5 421.1L1135.8 424.0L1162.0 409.0L1188.3 391.7L1214.6 350.0L1240.8 330.0L1267.1 320.0L1293.4 306.0L1319.6 301.0L1345.9 306.0L1372.2 288.0" fill="none" stroke="#e890c8" stroke-width="1.9" stroke-linejoin="round"/>
<path d="M164.0 733.5L190.2 692.2L216.5 688.5L242.8 671.5L269.0 679.7L295.3 679.1L321.6 688.9L347.8 678.7L374.1 674.1L400.3 666.3L426.6 678.3L452.9 673.0L479.1 674.1L505.4 680.9L531.7 712.1L557.9 699.8L584.2 701.9L610.5 714.0L636.7 716.2L663.0 705.1L689.3 651.5L715.5 604.1L741.8 588.4L768.1 566.8L794.3 602.7L820.6 586.0L846.9 578.4L873.1 533.1L899.4 547.5L925.6 517.1L951.9 514.5L978.2 559.2L1004.4 508.4L1030.7 516.5L1057.0 520.4L1083.2 479.4L1109.5 498.2L1135.8 447.2L1162.0 407.9L1188.3 385.4L1214.6 360.0L1240.8 345.0L1267.1 328.0L1293.4 301.0L1319.6 208.0L1345.9 168.0L1372.2 154.0" fill="none" stroke="#c4f0c4" stroke-width="1.9" stroke-linejoin="round"/>
<path d="M164.0 705.2L190.2 699.1L216.5 677.1L242.8 677.0L269.0 684.8L295.3 721.4L321.6 737.9L347.8 695.9L374.1 690.6L400.3 646.7L426.6 646.9L452.9 631.0L479.1 616.8L505.4 669.5L531.7 701.4L557.9 699.6L584.2 723.1L610.5 703.1L636.7 697.3L663.0 663.7L689.3 649.7L715.5 611.6L741.8 613.3L768.1 574.9L794.3 560.2L820.6 545.2L846.9 551.9L873.1 559.9L899.4 517.2L925.6 533.1L951.9 509.4L978.2 502.8L1004.4 481.1L1030.7 413.3L1057.0 402.5L1083.2 330.0L1109.5 300.0L1135.8 280.0L1162.0 266.0L1188.3 243.0L1214.6 259.0L1240.8 263.0L1267.1 257.0L1293.4 279.0L1319.6 263.0L1345.9 203.0L1372.2 203.0" fill="none" stroke="#b48be6" stroke-width="1.9" stroke-linejoin="round"/>
<path d="M164.0 701.8L190.2 672.0L216.5 683.1L242.8 694.1L269.0 703.2L295.3 701.4L321.6 679.8L347.8 656.6L374.1 664.6L400.3 685.4L426.6 681.7L452.9 651.1L479.1 601.5L505.4 616.9L531.7 653.6L557.9 668.4L584.2 679.1L610.5 695.3L636.7 675.2L663.0 690.0L689.3 667.0L715.5 676.0L741.8 670.0L768.1 659.0L794.3 645.0L820.6 637.0L846.9 626.0L873.1 620.0L899.4 623.0L925.6 619.0L951.9 631.0L978.2 651.0L1004.4 645.0L1030.7 647.0L1057.0 649.0L1083.2 612.0L1109.5 570.0L1135.8 551.2L1162.0 534.0L1188.3 531.9L1214.6 497.1L1240.8 493.3L1267.1 480.6L1293.4 466.8L1319.6 479.2L1345.9 477.8L1372.2 465.4" fill="none" stroke="#8fbbe8" stroke-width="1.9" stroke-linejoin="round"/>
<path d="M164.0 762.5L190.2 733.5L216.5 687.4L242.8 690.0L269.0 680.0L295.3 648.0L321.6 631.0L347.8 594.0L374.1 598.0L400.3 633.0L426.6 665.0L452.9 637.2L479.1 636.4L505.4 608.1L531.7 635.4L557.9 655.1L584.2 698.7L610.5 694.3L636.7 648.8L663.0 639.2L689.3 609.7L715.5 593.1L741.8 510.7L768.1 500.1L794.3 481.6L820.6 500.1L846.9 486.9L873.1 478.9L899.4 464.1L925.6 466.6L951.9 408.1L978.2 438.8L1004.4 464.7L1030.7 478.9L1057.0 447.1L1083.2 455.9L1109.5 434.6L1135.8 439.8L1162.0 425.0L1188.3 426.2L1214.6 415.3L1240.8 423.0L1267.1 420.2L1293.4 413.6L1319.6 297.7L1345.9 295.2L1372.2 290.9" fill="none" stroke="#f5bb8c" stroke-width="1.9" stroke-linejoin="round"/>
<path d="M164.0 758.6L190.2 737.9L216.5 718.8L242.8 700.4L269.0 698.4L295.3 715.7L321.6 735.6L347.8 741.9L374.1 758.0L400.3 691.7L426.6 717.4L452.9 669.9L479.1 678.9L505.4 682.5L531.7 709.8L557.9 730.0L584.2 758.0L610.5 813.0L636.7 789.0L663.0 740.0L689.3 683.2L715.5 651.5L741.8 644.8L768.1 574.5L794.3 559.9L820.6 508.0L846.9 530.0L873.1 499.5L899.4 510.3L925.6 550.5L951.9 559.4L978.2 534.6L1004.4 462.7L1030.7 507.7L1057.0 477.0L1083.2 445.8L1109.5 465.7L1135.8 484.2L1162.0 395.6L1188.3 374.9L1214.6 405.4L1240.8 356.8L1267.1 335.2L1293.4 302.1L1319.6 346.1L1345.9 345.4L1372.2 321.7" fill="none" stroke="#8fbbe8" stroke-width="1.9" stroke-linejoin="round"/>
<path d="M164.0 716.5L190.2 707.2L216.5 695.2L242.8 675.9L269.0 681.0L295.3 707.6L321.6 725.2L347.8 752.5L374.1 720.1L400.3 700.5L426.6 692.6L452.9 656.4L479.1 632.6L505.4 651.9L531.7 654.4L557.9 658.1L584.2 674.1L610.5 711.3L636.7 660.9L663.0 630.5L689.3 590.8L715.5 558.3L741.8 530.5L768.1 533.4L794.3 522.0L820.6 538.8L846.9 524.8L873.1 498.6L899.4 516.8L925.6 470.6L951.9 457.8L978.2 463.2L1004.4 469.6L1030.7 436.1L1057.0 452.5L1083.2 427.5L1109.5 446.2L1135.8 436.7L1162.0 383.2L1188.3 363.1L1214.6 347.0L1240.8 340.2L1267.1 333.4L1293.4 307.4L1319.6 280.3L1345.9 298.1L1372.2 297.1" fill="none" stroke="#f5bb8c" stroke-width="1.9" stroke-linejoin="round"/>
<path d="M164.0 698.0L190.2 684.7L216.5 691.1L242.8 697.4L269.0 695.3L295.3 697.3L321.6 723.8L347.8 707.5L374.1 698.6L400.3 703.3L426.6 668.6L452.9 630.1L479.1 588.5L505.4 604.6L531.7 617.4L557.9 656.6L584.2 671.7L610.5 651.7L636.7 613.4L663.0 580.0L689.3 530.0L715.5 485.0L741.8 442.0L768.1 462.0L794.3 462.0L820.6 470.0L846.9 482.8L873.1 486.7L899.4 497.2L925.6 529.7L951.9 526.9L978.2 541.5L1004.4 544.2L1030.7 524.4L1057.0 537.4L1083.2 481.1L1109.5 443.0L1135.8 442.0L1162.0 461.5L1188.3 438.2L1214.6 421.0L1240.8 424.6L1267.1 413.9L1293.4 422.8L1319.6 429.0L1345.9 469.9L1372.2 465.6" fill="none" stroke="#b48be6" stroke-width="1.9" stroke-linejoin="round"/>
<path d="M164.0 775.3L190.2 768.5L216.5 739.8L242.8 730.0L269.0 729.7L295.3 695.9L321.6 752.0L347.8 790.0L374.1 817.0L400.3 790.0L426.6 760.0L452.9 717.5L479.1 710.8L505.4 700.0L531.7 674.2L557.9 682.7L584.2 721.5L610.5 715.9L636.7 708.3L663.0 661.0L689.3 651.1L715.5 571.4L741.8 593.3L768.1 565.0L794.3 604.1L820.6 588.9L846.9 560.4L873.1 589.4L899.4 579.9L925.6 555.2L951.9 580.3L978.2 570.4L1004.4 542.9L1030.7 526.3L1057.0 503.3L1083.2 490.3L1109.5 473.2L1135.8 437.4L1162.0 434.5L1188.3 425.0L1214.6 389.2L1240.8 410.8L1267.1 366.9L1293.4 380.4L1319.6 383.5L1345.9 405.0L1372.2 433.5" fill="none" stroke="#c4f0c4" stroke-width="1.9" stroke-linejoin="round"/>
<path d="M164.0 623.0L190.2 670.0L216.5 690.0L242.8 683.2L269.0 658.5L295.3 664.8L321.6 685.8L347.8 705.7L374.1 696.7L400.3 704.5L426.6 662.9L452.9 628.0L479.1 593.5L505.4 624.1L531.7 632.8L557.9 645.4L584.2 675.9L610.5 689.7L636.7 670.1L663.0 602.9L689.3 559.4L715.5 540.9L741.8 516.5L768.1 511.6L794.3 488.1L820.6 509.6L846.9 526.3L873.1 481.7L899.4 484.5L925.6 432.2L951.9 449.9L978.2 468.3L1004.4 443.0L1030.7 430.3L1057.0 444.4L1083.2 440.1L1109.5 417.6L1135.8 410.5L1162.0 429.7L1188.3 468.4L1214.6 452.2L1240.8 432.9L1267.1 362.1L1293.4 343.4L1319.6 314.8L1345.9 328.8L1372.2 311.0" fill="none" stroke="#b48be6" stroke-width="1.9" stroke-linejoin="round"/>
<path d="M164.0 719.1L190.2 709.7L216.5 724.1L242.8 708.0L269.0 708.5L295.3 677.4L321.6 710.2L347.8 714.6L374.1 700.0L400.3 680.0L426.6 620.0L452.9 571.0L479.1 526.0L505.4 560.0L531.7 588.0L557.9 620.0L584.2 660.0L610.5 683.8L636.7 658.4L663.0 640.6L689.3 605.3L715.5 591.8L741.8 559.1L768.1 552.9L794.3 530.5L820.6 496.5L846.9 527.0L873.1 563.7L899.4 506.8L925.6 493.9L951.9 494.4L978.2 488.0L1004.4 427.6L1030.7 438.6L1057.0 452.5L1083.2 454.2L1109.5 472.4L1135.8 478.1L1162.0 446.2L1188.3 417.2L1214.6 408.0L1240.8 482.8L1267.1 457.0L1293.4 378.8L1319.6 379.9L1345.9 411.4L1372.2 393.6" fill="none" stroke="#8fbbe8" stroke-width="1.9" stroke-linejoin="round"/>
<path d="M164.0 747.2L190.2 711.9L216.5 703.1L242.8 683.1L269.0 688.1L295.3 693.6L321.6 679.4L347.8 694.5L374.1 734.2L400.3 726.4L426.6 714.0L452.9 710.5L479.1 730.0L505.4 744.0L531.7 823.0L557.9 802.0L584.2 764.0L610.5 740.0L636.7 718.2L663.0 679.2L689.3 657.1L715.5 652.4L741.8 618.5L768.1 624.5L794.3 614.6L820.6 610.5L846.9 558.1L873.1 535.7L899.4 522.8L925.6 513.8L951.9 529.2L978.2 533.7L1004.4 486.7L1030.7 464.0L1057.0 430.1L1083.2 418.4L1109.5 444.3L1135.8 411.3L1162.0 402.2L1188.3 386.1L1214.6 387.8L1240.8 341.6L1267.1 369.4L1293.4 371.8L1319.6 336.4L1345.9 397.1L1372.2 421.7" fill="none" stroke="#c4f0c4" stroke-width="1.9" stroke-linejoin="round"/>
<path d="M164.0 717.5L190.2 716.2L216.5 693.0L242.8 666.7L269.0 714.7L295.3 684.6L321.6 722.8L347.8 724.7L374.1 743.7L400.3 722.7L426.6 704.2L452.9 689.0L479.1 676.4L505.4 641.4L531.7 691.8L557.9 668.9L584.2 714.9L610.5 721.4L636.7 701.1L663.0 649.6L689.3 624.9L715.5 599.1L741.8 558.3L768.1 527.1L794.3 480.5L820.6 493.2L846.9 516.8L873.1 529.2L899.4 525.5L925.6 510.8L951.9 465.4L978.2 487.5L1004.4 510.8L1030.7 495.8L1057.0 497.0L1083.2 483.7L1109.5 505.9L1135.8 435.3L1162.0 421.3L1188.3 460.0L1214.6 455.0L1240.8 450.0L1267.1 440.0L1293.4 472.0L1319.6 486.0L1345.9 522.0L1372.2 509.0" fill="none" stroke="#c4f0c4" stroke-width="1.9" stroke-linejoin="round"/>
<path d="M164.0 781.9L190.2 725.5L216.5 741.6L242.8 710.0L269.0 730.9L295.3 692.0L321.6 731.1L347.8 689.6L374.1 674.5L400.3 646.6L426.6 642.7L452.9 601.8L479.1 585.1L505.4 614.5L531.7 678.4L557.9 702.4L584.2 711.5L610.5 738.6L636.7 701.5L663.0 657.1L689.3 588.3L715.5 600.5L741.8 552.1L768.1 568.7L794.3 535.1L820.6 540.6L846.9 511.9L873.1 508.7L899.4 539.1L925.6 521.1L951.9 509.6L978.2 528.5L1004.4 502.5L1030.7 444.9L1057.0 428.6L1083.2 406.1L1109.5 389.7L1135.8 391.8L1162.0 348.2L1188.3 320.0L1214.6 300.0L1240.8 260.0L1267.1 221.0L1293.4 221.0L1319.6 226.0L1345.9 228.0L1372.2 179.0" fill="none" stroke="#f5bb8c" stroke-width="1.9" stroke-linejoin="round"/>
<path d="M164.0 748.1L190.2 686.9L216.5 683.1L242.8 704.7L269.0 702.5L295.3 708.1L321.6 724.1L347.8 770.0L374.1 804.0L400.3 828.0L426.6 767.0L452.9 730.0L479.1 713.3L505.4 719.2L531.7 733.6L557.9 710.3L584.2 706.2L610.5 719.5L636.7 701.7L663.0 669.2L689.3 623.2L715.5 627.6L741.8 576.5L768.1 522.1L794.3 526.1L820.6 503.0L846.9 526.5L873.1 526.0L899.4 502.5L925.6 512.9L951.9 486.3L978.2 520.2L1004.4 500.0L1030.7 506.7L1057.0 566.6L1083.2 534.8L1109.5 516.1L1135.8 518.0L1162.0 452.2L1188.3 431.4L1214.6 447.7L1240.8 445.4L1267.1 462.8L1293.4 476.5L1319.6 467.0L1345.9 459.9L1372.2 413.4" fill="none" stroke="#c4f0c4" stroke-width="1.9" stroke-linejoin="round"/>
</g>
<path d="M164.0 723.7L190.2 713.1L216.5 700.8L242.8 690.1L269.0 688.1L295.3 691.4L321.6 696.4L347.8 699.6L374.1 697.6L400.3 681.8L426.6 666.4L452.9 647.6L479.1 634.2L505.4 643.5L531.7 661.3L557.9 673.0L584.2 683.0L610.5 682.5L636.7 660.0L663.0 635.5L689.3 609.0L715.5 585.0L741.8 562.0L768.1 543.8L794.3 529.1L820.6 516.9L846.9 506.2L873.1 500.0L899.4 495.2L925.6 489.3L951.9 484.0L978.2 480.5L1004.4 478.5L1030.7 472.0L1057.0 462.0L1083.2 451.7L1109.5 437.8L1135.8 424.4L1162.0 414.2L1188.3 405.5L1214.6 399.8L1240.8 394.8L1267.1 384.0L1293.4 371.5L1319.6 358.5L1345.9 351.6L1372.2 337.0" fill="none" stroke="#000" stroke-width="4.5" stroke-dasharray="9 15.5"/>
<path d="M164.0 731.7L190.2 721.3L216.5 709.2L242.8 698.8L269.0 697.0L295.3 700.5L321.6 705.7L347.8 709.2L374.1 707.4L400.3 691.8L426.6 674.4L452.9 653.6L479.1 636.2L505.4 641.5L531.7 655.3L557.9 667.5L584.2 678.0L610.5 680.0L636.7 660.0L663.0 638.0L689.3 614.0L715.5 592.0L741.8 571.0L768.1 553.0L794.3 538.5L820.6 526.5L846.9 516.0L873.1 510.0L899.4 504.5L925.6 498.0L951.9 492.0L978.2 486.0L1004.4 481.5L1030.7 473.5L1057.0 462.0L1083.2 451.0L1109.5 436.5L1135.8 422.4L1162.0 405.2L1188.3 396.0L1214.6 389.8L1240.8 383.3L1267.1 371.0L1293.4 358.0L1319.6 344.5L1345.9 329.6L1372.2 311.0" fill="none" stroke="#000" stroke-width="6" stroke-linejoin="round" stroke-linecap="round"/>
<rect x="183.2" y="705.5" width="14" height="14" fill="#4a6cf6" stroke="#0a14c8" stroke-width="1.6"/>
<rect x="209.5" y="715.5" width="14" height="14" fill="#4a6cf6" stroke="#0a14c8" stroke-width="1.6"/>
<rect x="235.8" y="718.5" width="14" height="14" fill="#4a6cf6" stroke="#0a14c8" stroke-width="1.6"/>
<rect x="262.0" y="699.0" width="14" height="14" fill="#4a6cf6" stroke="#0a14c8" stroke-width="1.6"/>
<rect x="288.3" y="716.0" width="14" height="14" fill="#4a6cf6" stroke="#0a14c8" stroke-width="1.6"/>
<rect x="314.6" y="742.5" width="14" height="14" fill="#4a6cf6" stroke="#0a14c8" stroke-width="1.6"/>
<rect x="340.8" y="752.0" width="14" height="14" fill="#4a6cf6" stroke="#0a14c8" stroke-width="1.6"/>
<rect x="367.1" y="729.0" width="14" height="14" fill="#4a6cf6" stroke="#0a14c8" stroke-width="1.6"/>
<rect x="393.3" y="752.0" width="14" height="14" fill="#4a6cf6" stroke="#0a14c8" stroke-width="1.6"/>
<rect x="419.6" y="753.5" width="14" height="14" fill="#4a6cf6" stroke="#0a14c8" stroke-width="1.6"/>
<rect x="445.9" y="732.5" width="14" height="14" fill="#4a6cf6" stroke="#0a14c8" stroke-width="1.6"/>
<rect x="472.1" y="713.6" width="14" height="14" fill="#4a6cf6" stroke="#0a14c8" stroke-width="1.6"/>
<rect x="498.4" y="737.6" width="14" height="14" fill="#4a6cf6" stroke="#0a14c8" stroke-width="1.6"/>
<rect x="524.7" y="742.0" width="14" height="14" fill="#4a6cf6" stroke="#0a14c8" stroke-width="1.6"/>
<rect x="550.9" y="720.6" width="14" height="14" fill="#4a6cf6" stroke="#0a14c8" stroke-width="1.6"/>
<rect x="577.2" y="710.0" width="14" height="14" fill="#4a6cf6" stroke="#0a14c8" stroke-width="1.6"/>
<rect x="603.5" y="720.0" width="14" height="14" fill="#4a6cf6" stroke="#0a14c8" stroke-width="1.6"/>
<rect x="629.7" y="709.0" width="14" height="14" fill="#4a6cf6" stroke="#0a14c8" stroke-width="1.6"/>
<rect x="656.0" y="661.4" width="14" height="14" fill="#4a6cf6" stroke="#0a14c8" stroke-width="1.6"/>
<rect x="682.3" y="670.8" width="14" height="14" fill="#4a6cf6" stroke="#0a14c8" stroke-width="1.6"/>
<rect x="708.5" y="689.2" width="14" height="14" fill="#4a6cf6" stroke="#0a14c8" stroke-width="1.6"/>
<rect x="734.8" y="681.2" width="14" height="14" fill="#4a6cf6" stroke="#0a14c8" stroke-width="1.6"/>
<rect x="761.1" y="674.6" width="14" height="14" fill="#4a6cf6" stroke="#0a14c8" stroke-width="1.6"/>
<rect x="787.3" y="704.1" width="14" height="14" fill="#4a6cf6" stroke="#0a14c8" stroke-width="1.6"/>
<rect x="813.6" y="684.7" width="14" height="14" fill="#4a6cf6" stroke="#0a14c8" stroke-width="1.6"/>
<rect x="839.9" y="659.0" width="14" height="14" fill="#4a6cf6" stroke="#0a14c8" stroke-width="1.6"/>
<rect x="866.1" y="653.4" width="14" height="14" fill="#4a6cf6" stroke="#0a14c8" stroke-width="1.6"/>
<rect x="892.4" y="660.7" width="14" height="14" fill="#4a6cf6" stroke="#0a14c8" stroke-width="1.6"/>
<rect x="918.6" y="689.2" width="14" height="14" fill="#4a6cf6" stroke="#0a14c8" stroke-width="1.6"/>
<rect x="944.9" y="685.7" width="14" height="14" fill="#4a6cf6" stroke="#0a14c8" stroke-width="1.6"/>
<rect x="971.2" y="675.3" width="14" height="14" fill="#4a6cf6" stroke="#0a14c8" stroke-width="1.6"/>
<rect x="997.4" y="689.2" width="14" height="14" fill="#4a6cf6" stroke="#0a14c8" stroke-width="1.6"/>
<rect x="1023.7" y="697.2" width="14" height="14" fill="#4a6cf6" stroke="#0a14c8" stroke-width="1.6"/>
<rect x="1050.0" y="677.0" width="14" height="14" fill="#4a6cf6" stroke="#0a14c8" stroke-width="1.6"/>
<circle cx="190.2" cy="692.5" r="7.2" fill="#0f6a12" stroke="#000" stroke-width="1.6"/>
<circle cx="216.5" cy="705.7" r="7.2" fill="#0f6a12" stroke="#000" stroke-width="1.6"/>
<circle cx="242.8" cy="711.0" r="7.2" fill="#0f6a12" stroke="#000" stroke-width="1.6"/>
<circle cx="269.0" cy="697.3" r="7.2" fill="#0f6a12" stroke="#000" stroke-width="1.6"/>
<circle cx="295.3" cy="722.0" r="7.2" fill="#0f6a12" stroke="#000" stroke-width="1.6"/>
<circle cx="321.6" cy="754.0" r="7.2" fill="#0f6a12" stroke="#000" stroke-width="1.6"/>
<circle cx="347.8" cy="765.0" r="7.2" fill="#0f6a12" stroke="#000" stroke-width="1.6"/>
<circle cx="374.1" cy="743.0" r="7.2" fill="#0f6a12" stroke="#000" stroke-width="1.6"/>
<circle cx="400.3" cy="754.3" r="7.2" fill="#0f6a12" stroke="#000" stroke-width="1.6"/>
<circle cx="426.6" cy="753.0" r="7.2" fill="#0f6a12" stroke="#000" stroke-width="1.6"/>
<circle cx="452.9" cy="722.0" r="7.2" fill="#0f6a12" stroke="#000" stroke-width="1.6"/>
<circle cx="479.1" cy="701.5" r="7.2" fill="#0f6a12" stroke="#000" stroke-width="1.6"/>
<circle cx="505.4" cy="726.5" r="7.2" fill="#0f6a12" stroke="#000" stroke-width="1.6"/>
<circle cx="531.7" cy="738.0" r="7.2" fill="#0f6a12" stroke="#000" stroke-width="1.6"/>
<circle cx="557.9" cy="723.0" r="7.2" fill="#0f6a12" stroke="#000" stroke-width="1.6"/>
<circle cx="584.2" cy="726.5" r="7.2" fill="#0f6a12" stroke="#000" stroke-width="1.6"/>
<circle cx="610.5" cy="743.8" r="7.2" fill="#0f6a12" stroke="#000" stroke-width="1.6"/>
<circle cx="636.7" cy="743.0" r="7.2" fill="#0f6a12" stroke="#000" stroke-width="1.6"/>
<circle cx="663.0" cy="700.3" r="7.2" fill="#0f6a12" stroke="#000" stroke-width="1.6"/>
<circle cx="689.3" cy="712.5" r="7.2" fill="#0f6a12" stroke="#000" stroke-width="1.6"/>
<circle cx="715.5" cy="736.1" r="7.2" fill="#0f6a12" stroke="#000" stroke-width="1.6"/>
<circle cx="741.8" cy="729.9" r="7.2" fill="#0f6a12" stroke="#000" stroke-width="1.6"/>
<circle cx="768.1" cy="717.7" r="7.2" fill="#0f6a12" stroke="#000" stroke-width="1.6"/>
<circle cx="794.3" cy="739.6" r="7.2" fill="#0f6a12" stroke="#000" stroke-width="1.6"/>
<circle cx="820.6" cy="712.5" r="7.2" fill="#0f6a12" stroke="#000" stroke-width="1.6"/>
<circle cx="846.9" cy="675.3" r="7.2" fill="#0f6a12" stroke="#000" stroke-width="1.6"/>
<circle cx="873.1" cy="659.0" r="7.2" fill="#0f6a12" stroke="#000" stroke-width="1.6"/>
<circle cx="899.4" cy="660.4" r="7.2" fill="#0f6a12" stroke="#000" stroke-width="1.6"/>
<circle cx="925.6" cy="687.5" r="7.2" fill="#0f6a12" stroke="#000" stroke-width="1.6"/>
<circle cx="951.9" cy="685.8" r="7.2" fill="#0f6a12" stroke="#000" stroke-width="1.6"/>
<circle cx="978.2" cy="671.9" r="7.2" fill="#0f6a12" stroke="#000" stroke-width="1.6"/>
<circle cx="1004.4" cy="686.5" r="7.2" fill="#0f6a12" stroke="#000" stroke-width="1.6"/>
<circle cx="1030.7" cy="693.4" r="7.2" fill="#0f6a12" stroke="#000" stroke-width="1.6"/>
<circle cx="1057.0" cy="669.1" r="7.2" fill="#0f6a12" stroke="#000" stroke-width="1.6"/>
<rect x="1070.6" y="641.6" width="349" height="94.6" fill="#fff" stroke="#000" stroke-width="1.3"/>
<g font-size="22" font-weight="bold" fill="#000">
<text x="1074.8" y="665.4" textLength="127" lengthAdjust="spacingAndGlyphs">Observations</text>
<text x="1074.8" y="694.8" textLength="298" lengthAdjust="spacingAndGlyphs">Circles - Avg 4 Balloon datasets</text>
<text x="1074.8" y="726" textLength="312" lengthAdjust="spacingAndGlyphs">Squares- Avg 2 Satellite datasets</text>
</g>
<rect x="1074.8" y="667.2" width="127.2" height="1.6" fill="#000"/>
<rect x="605.5" y="757" width="819" height="150.5" fill="none" stroke="#000" stroke-width="2.2"/>
<g font-size="31" font-weight="bold" fill="#000">
<text x="771.7" y="800" textLength="485.9" lengthAdjust="spacingAndGlyphs">Tropical Mid-Troposphere 20S-20N</text>
<text x="716.7" y="842.5" textLength="598.7" lengthAdjust="spacingAndGlyphs">73 CMIP-5 rcp8.5 Models and Observations</text>
<text x="611.2" y="885.3" textLength="806.5" lengthAdjust="spacingAndGlyphs">5-Yr Running Avgs (Trend line intercept = 0 at 1979 for all)</text>
</g>
</svg></body></html>
